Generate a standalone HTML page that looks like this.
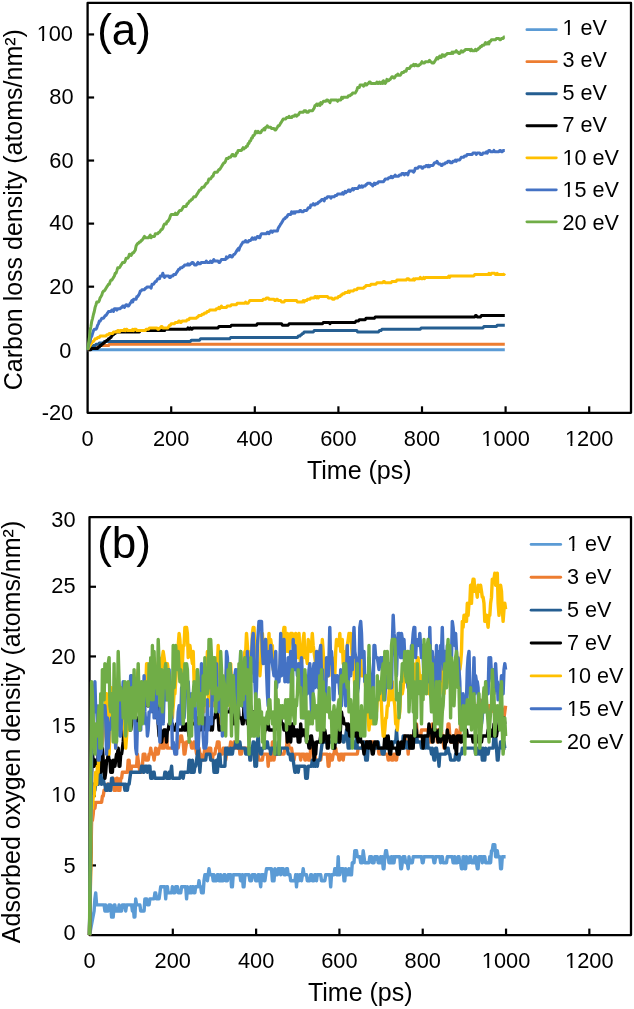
<!DOCTYPE html><html><head><meta charset="utf-8"><style>html,body{margin:0;padding:0;background:#fff;width:634px;height:1009px;overflow:hidden}</style></head><body><svg width="634" height="1009" viewBox="0 0 634 1009" style="display:block;will-change:transform">
<rect width="634" height="1009" fill="#fff"/>
<g font-family='"Liberation Sans", sans-serif' fill="#000">
<rect x="87.60" y="2.90" width="543.40" height="409.90" fill="none" stroke="#000" stroke-width="2.3" stroke-linejoin="round"/>
<line x1="87.60" y1="349.74" x2="94.10" y2="349.74" stroke="#000" stroke-width="2.2"/>
<line x1="87.60" y1="286.68" x2="94.10" y2="286.68" stroke="#000" stroke-width="2.2"/>
<line x1="87.60" y1="223.62" x2="94.10" y2="223.62" stroke="#000" stroke-width="2.2"/>
<line x1="87.60" y1="160.55" x2="94.10" y2="160.55" stroke="#000" stroke-width="2.2"/>
<line x1="87.60" y1="97.49" x2="94.10" y2="97.49" stroke="#000" stroke-width="2.2"/>
<line x1="87.60" y1="34.43" x2="94.10" y2="34.43" stroke="#000" stroke-width="2.2"/>
<line x1="171.20" y1="412.80" x2="171.20" y2="406.30" stroke="#000" stroke-width="2.2"/>
<line x1="254.80" y1="412.80" x2="254.80" y2="406.30" stroke="#000" stroke-width="2.2"/>
<line x1="338.40" y1="412.80" x2="338.40" y2="406.30" stroke="#000" stroke-width="2.2"/>
<line x1="422.00" y1="412.80" x2="422.00" y2="406.30" stroke="#000" stroke-width="2.2"/>
<line x1="505.60" y1="412.80" x2="505.60" y2="406.30" stroke="#000" stroke-width="2.2"/>
<line x1="589.20" y1="412.80" x2="589.20" y2="406.30" stroke="#000" stroke-width="2.2"/>
<path d="M87.6 349.7L88.4 349.7L89.3 349.7L90.1 349.7L90.9 349.7L91.8 349.7L92.6 349.7L93.5 349.7L94.3 349.7L95.1 349.7L96.0 349.7L96.8 349.7L97.6 349.7L98.5 349.7L99.3 349.7L100.1 349.7L101.0 349.7L101.8 349.7L102.6 349.7L103.5 349.7L104.3 349.7L105.2 349.7L106.0 349.7L106.8 349.7L107.7 349.7L108.5 349.7L109.3 349.7L110.2 349.7L111.0 349.7L111.8 349.7L112.7 349.7L113.5 349.7L114.4 349.7L115.2 349.7L116.0 349.7L116.9 349.7L117.7 349.7L118.5 349.7L119.4 349.7L120.2 349.7L121.0 349.7L121.9 349.7L122.7 349.7L123.5 349.7L124.4 349.7L125.2 349.7L126.1 349.7L126.9 349.7L127.7 349.7L128.6 349.7L129.4 349.7L130.2 349.7L131.1 349.7L131.9 349.7L132.7 349.7L133.6 349.7L134.4 349.7L135.3 349.7L136.1 349.7L136.9 349.7L137.8 349.7L138.6 349.7L139.4 349.7L140.3 349.7L141.1 349.7L141.9 349.7L142.8 349.7L143.6 349.7L144.4 349.7L145.3 349.7L146.1 349.7L147.0 349.7L147.8 349.7L148.6 349.7L149.5 349.7L150.3 349.7L151.1 349.7L152.0 349.7L152.8 349.7L153.6 349.7L154.5 349.7L155.3 349.7L156.2 349.7L157.0 349.7L157.8 349.7L158.7 349.7L159.5 349.7L160.3 349.7L161.2 349.7L162.0 349.7L162.8 349.7L163.7 349.7L164.5 349.7L165.3 349.7L166.2 349.7L167.0 349.7L167.9 349.7L168.7 349.7L169.5 349.7L170.4 349.7L171.2 349.7L172.0 349.7L172.9 349.7L173.7 349.7L174.5 349.7L175.4 349.7L176.2 349.7L177.1 349.7L177.9 349.7L178.7 349.7L179.6 349.7L180.4 349.7L181.2 349.7L182.1 349.7L182.9 349.7L183.7 349.7L184.6 349.7L185.4 349.7L186.2 349.7L187.1 349.7L187.9 349.7L188.8 349.7L189.6 349.7L190.4 349.7L191.3 349.7L192.1 349.7L192.9 349.7L193.8 349.7L194.6 349.7L195.4 349.7L196.3 349.7L197.1 349.7L198.0 349.7L198.8 349.7L199.6 349.7L200.5 349.7L201.3 349.7L202.1 349.7L203.0 349.7L203.8 349.7L204.6 349.7L205.5 349.7L206.3 349.7L207.1 349.7L208.0 349.7L208.8 349.7L209.7 349.7L210.5 349.7L211.3 349.7L212.2 349.7L213.0 349.7L213.8 349.7L214.7 349.7L215.5 349.7L216.3 349.7L217.2 349.7L218.0 349.7L218.9 349.7L219.7 349.7L220.5 349.7L221.4 349.7L222.2 349.7L223.0 349.7L223.9 349.7L224.7 349.7L225.5 349.7L226.4 349.7L227.2 349.7L228.0 349.7L228.9 349.7L229.7 349.7L230.6 349.7L231.4 349.7L232.2 349.7L233.1 349.7L233.9 349.7L234.7 349.7L235.6 349.7L236.4 349.7L237.2 349.7L238.1 349.7L238.9 349.7L239.8 349.7L240.6 349.7L241.4 349.7L242.3 349.7L243.1 349.7L243.9 349.7L244.8 349.7L245.6 349.7L246.4 349.7L247.3 349.7L248.1 349.7L248.9 349.7L249.8 349.7L250.6 349.7L251.5 349.7L252.3 349.7L253.1 349.7L254.0 349.7L254.8 349.7L255.6 349.7L256.5 349.7L257.3 349.7L258.1 349.7L259.0 349.7L259.8 349.7L260.7 349.7L261.5 349.7L262.3 349.7L263.2 349.7L264.0 349.7L264.8 349.7L265.7 349.7L266.5 349.7L267.3 349.7L268.2 349.7L269.0 349.7L269.8 349.7L270.7 349.7L271.5 349.7L272.4 349.7L273.2 349.7L274.0 349.7L274.9 349.7L275.7 349.7L276.5 349.7L277.4 349.7L278.2 349.7L279.0 349.7L279.9 349.7L280.7 349.7L281.6 349.7L282.4 349.7L283.2 349.7L284.1 349.7L284.9 349.7L285.7 349.7L286.6 349.7L287.4 349.7L288.2 349.7L289.1 349.7L289.9 349.7L290.7 349.7L291.6 349.7L292.4 349.7L293.3 349.7L294.1 349.7L294.9 349.7L295.8 349.7L296.6 349.7L297.4 349.7L298.3 349.7L299.1 349.7L299.9 349.7L300.8 349.7L301.6 349.7L302.5 349.7L303.3 349.7L304.1 349.7L305.0 349.7L305.8 349.7L306.6 349.7L307.5 349.7L308.3 349.7L309.1 349.7L310.0 349.7L310.8 349.7L311.6 349.7L312.5 349.7L313.3 349.7L314.2 349.7L315.0 349.7L315.8 349.7L316.7 349.7L317.5 349.7L318.3 349.7L319.2 349.7L320.0 349.7L320.8 349.7L321.7 349.7L322.5 349.7L323.4 349.7L324.2 349.7L325.0 349.7L325.9 349.7L326.7 349.7L327.5 349.7L328.4 349.7L329.2 349.7L330.0 349.7L330.9 349.7L331.7 349.7L332.5 349.7L333.4 349.7L334.2 349.7L335.1 349.7L335.9 349.7L336.7 349.7L337.6 349.7L338.4 349.7L339.2 349.7L340.1 349.7L340.9 349.7L341.7 349.7L342.6 349.7L343.4 349.7L344.3 349.7L345.1 349.7L345.9 349.7L346.8 349.7L347.6 349.7L348.4 349.7L349.3 349.7L350.1 349.7L350.9 349.7L351.8 349.7L352.6 349.7L353.4 349.7L354.3 349.7L355.1 349.7L356.0 349.7L356.8 349.7L357.6 349.7L358.5 349.7L359.3 349.7L360.1 349.7L361.0 349.7L361.8 349.7L362.6 349.7L363.5 349.7L364.3 349.7L365.2 349.7L366.0 349.7L366.8 349.7L367.7 349.7L368.5 349.7L369.3 349.7L370.2 349.7L371.0 349.7L371.8 349.7L372.7 349.7L373.5 349.7L374.3 349.7L375.2 349.7L376.0 349.7L376.9 349.7L377.7 349.7L378.5 349.7L379.4 349.7L380.2 349.7L381.0 349.7L381.9 349.7L382.7 349.7L383.5 349.7L384.4 349.7L385.2 349.7L386.1 349.7L386.9 349.7L387.7 349.7L388.6 349.7L389.4 349.7L390.2 349.7L391.1 349.7L391.9 349.7L392.7 349.7L393.6 349.7L394.4 349.7L395.2 349.7L396.1 349.7L396.9 349.7L397.8 349.7L398.6 349.7L399.4 349.7L400.3 349.7L401.1 349.7L401.9 349.7L402.8 349.7L403.6 349.7L404.4 349.7L405.3 349.7L406.1 349.7L407.0 349.7L407.8 349.7L408.6 349.7L409.5 349.7L410.3 349.7L411.1 349.7L412.0 349.7L412.8 349.7L413.6 349.7L414.5 349.7L415.3 349.7L416.1 349.7L417.0 349.7L417.8 349.7L418.7 349.7L419.5 349.7L420.3 349.7L421.2 349.7L422.0 349.7L422.8 349.7L423.7 349.7L424.5 349.7L425.3 349.7L426.2 349.7L427.0 349.7L427.9 349.7L428.7 349.7L429.5 349.7L430.4 349.7L431.2 349.7L432.0 349.7L432.9 349.7L433.7 349.7L434.5 349.7L435.4 349.7L436.2 349.7L437.0 349.7L437.9 349.7L438.7 349.7L439.6 349.7L440.4 349.7L441.2 349.7L442.1 349.7L442.9 349.7L443.7 349.7L444.6 349.7L445.4 349.7L446.2 349.7L447.1 349.7L447.9 349.7L448.8 349.7L449.6 349.7L450.4 349.7L451.3 349.7L452.1 349.7L452.9 349.7L453.8 349.7L454.6 349.7L455.4 349.7L456.3 349.7L457.1 349.7L457.9 349.7L458.8 349.7L459.6 349.7L460.5 349.7L461.3 349.7L462.1 349.7L463.0 349.7L463.8 349.7L464.6 349.7L465.5 349.7L466.3 349.7L467.1 349.7L468.0 349.7L468.8 349.7L469.7 349.7L470.5 349.7L471.3 349.7L472.2 349.7L473.0 349.7L473.8 349.7L474.7 349.7L475.5 349.7L476.3 349.7L477.2 349.7L478.0 349.7L478.8 349.7L479.7 349.7L480.5 349.7L481.4 349.7L482.2 349.7L483.0 349.7L483.9 349.7L484.7 349.7L485.5 349.7L486.4 349.7L487.2 349.7L488.0 349.7L488.9 349.7L489.7 349.7L490.6 349.7L491.4 349.7L492.2 349.7L493.1 349.7L493.9 349.7L494.7 349.7L495.6 349.7L496.4 349.7L497.2 349.7L498.1 349.7L498.9 349.7L499.7 349.7L500.6 349.7L501.4 349.7L502.3 349.7L503.1 349.7L503.9 349.7L504.8 349.7" fill="none" stroke="#5B9BD5" stroke-width="3.0" stroke-linejoin="round"/>
<path d="M87.6 349.7L88.4 349.7L89.3 349.7L90.1 348.4L90.9 348.4L91.8 348.4L92.6 348.4L93.5 347.0L94.3 347.0L95.1 347.0L96.0 347.0L96.8 347.0L97.6 347.0L98.5 347.0L99.3 347.0L100.1 345.6L101.0 345.6L101.8 345.6L102.6 345.6L103.5 345.6L104.3 345.6L105.2 345.6L106.0 345.6L106.8 345.6L107.7 345.6L108.5 345.6L109.3 344.3L110.2 344.3L111.0 344.3L111.8 344.3L112.7 344.3L113.5 344.3L114.4 344.3L115.2 344.3L116.0 344.3L116.9 344.3L117.7 344.3L118.5 344.3L119.4 344.3L120.2 344.3L121.0 344.3L121.9 344.3L122.7 344.3L123.5 344.3L124.4 344.3L125.2 344.3L126.1 344.3L126.9 344.3L127.7 344.3L128.6 344.3L129.4 344.3L130.2 344.3L131.1 344.3L131.9 344.3L132.7 344.3L133.6 344.3L134.4 344.3L135.3 344.3L136.1 344.3L136.9 344.3L137.8 344.3L138.6 344.3L139.4 344.3L140.3 344.3L141.1 344.3L141.9 344.3L142.8 344.3L143.6 344.3L144.4 344.3L145.3 344.3L146.1 344.3L147.0 344.3L147.8 344.3L148.6 344.3L149.5 344.3L150.3 344.3L151.1 344.3L152.0 344.3L152.8 344.3L153.6 344.3L154.5 344.3L155.3 344.3L156.2 344.3L157.0 344.3L157.8 344.3L158.7 344.3L159.5 344.3L160.3 344.3L161.2 344.3L162.0 344.3L162.8 344.3L163.7 344.3L164.5 344.3L165.3 344.3L166.2 344.3L167.0 344.3L167.9 344.3L168.7 344.3L169.5 344.3L170.4 344.3L171.2 344.3L172.0 344.3L172.9 344.3L173.7 344.3L174.5 344.3L175.4 344.3L176.2 344.3L177.1 344.3L177.9 344.3L178.7 344.3L179.6 344.3L180.4 344.3L181.2 344.3L182.1 344.3L182.9 344.3L183.7 344.3L184.6 344.3L185.4 344.3L186.2 344.3L187.1 344.3L187.9 344.3L188.8 344.3L189.6 344.3L190.4 344.3L191.3 344.3L192.1 344.3L192.9 344.3L193.8 344.3L194.6 344.3L195.4 344.3L196.3 344.3L197.1 344.3L198.0 344.3L198.8 344.3L199.6 344.3L200.5 344.3L201.3 344.3L202.1 344.3L203.0 344.3L203.8 344.3L204.6 344.3L205.5 344.3L206.3 344.3L207.1 344.3L208.0 344.3L208.8 344.3L209.7 344.3L210.5 344.3L211.3 344.3L212.2 344.3L213.0 344.3L213.8 344.3L214.7 344.3L215.5 344.3L216.3 344.3L217.2 344.3L218.0 344.3L218.9 344.3L219.7 344.3L220.5 344.3L221.4 344.3L222.2 344.3L223.0 344.3L223.9 344.3L224.7 344.3L225.5 344.3L226.4 344.3L227.2 344.3L228.0 344.3L228.9 344.3L229.7 344.3L230.6 344.3L231.4 344.3L232.2 344.3L233.1 344.3L233.9 344.3L234.7 344.3L235.6 344.3L236.4 344.3L237.2 344.3L238.1 344.3L238.9 344.3L239.8 344.3L240.6 344.3L241.4 344.3L242.3 344.3L243.1 344.3L243.9 344.3L244.8 344.3L245.6 344.3L246.4 344.3L247.3 344.3L248.1 344.3L248.9 344.3L249.8 344.3L250.6 344.3L251.5 344.3L252.3 344.3L253.1 344.3L254.0 344.3L254.8 344.3L255.6 344.3L256.5 344.3L257.3 344.3L258.1 344.3L259.0 344.3L259.8 344.3L260.7 344.3L261.5 344.3L262.3 344.3L263.2 344.3L264.0 344.3L264.8 344.3L265.7 344.3L266.5 344.3L267.3 344.3L268.2 344.3L269.0 344.3L269.8 344.3L270.7 344.3L271.5 344.3L272.4 344.3L273.2 344.3L274.0 344.3L274.9 344.3L275.7 344.3L276.5 344.3L277.4 344.3L278.2 344.3L279.0 344.3L279.9 344.3L280.7 344.3L281.6 344.3L282.4 344.3L283.2 344.3L284.1 344.3L284.9 344.3L285.7 344.3L286.6 344.3L287.4 344.3L288.2 344.3L289.1 344.3L289.9 344.3L290.7 344.3L291.6 344.3L292.4 344.3L293.3 344.3L294.1 344.3L294.9 344.3L295.8 344.3L296.6 344.3L297.4 344.3L298.3 344.3L299.1 344.3L299.9 344.3L300.8 344.3L301.6 344.3L302.5 344.3L303.3 344.3L304.1 344.3L305.0 344.3L305.8 344.3L306.6 344.3L307.5 344.3L308.3 344.3L309.1 344.3L310.0 344.3L310.8 344.3L311.6 344.3L312.5 344.3L313.3 344.3L314.2 344.3L315.0 344.3L315.8 344.3L316.7 344.3L317.5 344.3L318.3 344.3L319.2 344.3L320.0 344.3L320.8 344.3L321.7 344.3L322.5 344.3L323.4 344.3L324.2 344.3L325.0 344.3L325.9 344.3L326.7 344.3L327.5 344.3L328.4 344.3L329.2 344.3L330.0 344.3L330.9 344.3L331.7 344.3L332.5 344.3L333.4 344.3L334.2 344.3L335.1 344.3L335.9 344.3L336.7 344.3L337.6 344.3L338.4 344.3L339.2 344.3L340.1 344.3L340.9 344.3L341.7 344.3L342.6 344.3L343.4 344.3L344.3 344.3L345.1 344.3L345.9 344.3L346.8 344.3L347.6 344.3L348.4 344.3L349.3 344.3L350.1 344.3L350.9 344.3L351.8 344.3L352.6 344.3L353.4 344.3L354.3 344.3L355.1 344.3L356.0 344.3L356.8 344.3L357.6 344.3L358.5 344.3L359.3 344.3L360.1 344.3L361.0 344.3L361.8 344.3L362.6 344.3L363.5 344.3L364.3 344.3L365.2 344.3L366.0 344.3L366.8 344.3L367.7 344.3L368.5 344.3L369.3 344.3L370.2 344.3L371.0 344.3L371.8 344.3L372.7 344.3L373.5 344.3L374.3 344.3L375.2 344.3L376.0 344.3L376.9 344.3L377.7 344.3L378.5 344.3L379.4 344.3L380.2 344.3L381.0 344.3L381.9 344.3L382.7 344.3L383.5 344.3L384.4 344.3L385.2 344.3L386.1 344.3L386.9 344.3L387.7 344.3L388.6 344.3L389.4 344.3L390.2 344.3L391.1 344.3L391.9 344.3L392.7 344.3L393.6 344.3L394.4 344.3L395.2 344.3L396.1 344.3L396.9 344.3L397.8 344.3L398.6 344.3L399.4 344.3L400.3 344.3L401.1 344.3L401.9 344.3L402.8 344.3L403.6 344.3L404.4 344.3L405.3 344.3L406.1 344.3L407.0 344.3L407.8 344.3L408.6 344.3L409.5 344.3L410.3 344.3L411.1 344.3L412.0 344.3L412.8 344.3L413.6 344.3L414.5 344.3L415.3 344.3L416.1 344.3L417.0 344.3L417.8 344.3L418.7 344.3L419.5 344.3L420.3 344.3L421.2 344.3L422.0 344.3L422.8 344.3L423.7 344.3L424.5 344.3L425.3 344.3L426.2 344.3L427.0 344.3L427.9 344.3L428.7 344.3L429.5 344.3L430.4 344.3L431.2 344.3L432.0 344.3L432.9 344.3L433.7 344.3L434.5 344.3L435.4 344.3L436.2 344.3L437.0 344.3L437.9 344.3L438.7 344.3L439.6 344.3L440.4 344.3L441.2 344.3L442.1 344.3L442.9 344.3L443.7 344.3L444.6 344.3L445.4 344.3L446.2 344.3L447.1 344.3L447.9 344.3L448.8 344.3L449.6 344.3L450.4 344.3L451.3 344.3L452.1 344.3L452.9 344.3L453.8 344.3L454.6 344.3L455.4 344.3L456.3 344.3L457.1 344.3L457.9 344.3L458.8 344.3L459.6 344.3L460.5 344.3L461.3 344.3L462.1 344.3L463.0 344.3L463.8 344.3L464.6 344.3L465.5 344.3L466.3 344.3L467.1 344.3L468.0 344.3L468.8 344.3L469.7 344.3L470.5 344.3L471.3 344.3L472.2 344.3L473.0 344.3L473.8 344.3L474.7 344.3L475.5 344.3L476.3 344.3L477.2 344.3L478.0 344.3L478.8 344.3L479.7 344.3L480.5 344.3L481.4 344.3L482.2 344.3L483.0 344.3L483.9 344.3L484.7 344.3L485.5 344.3L486.4 344.3L487.2 344.3L488.0 344.3L488.9 344.3L489.7 344.3L490.6 344.3L491.4 344.3L492.2 344.3L493.1 344.3L493.9 344.3L494.7 344.3L495.6 344.3L496.4 344.3L497.2 344.3L498.1 344.3L498.9 344.3L499.7 344.3L500.6 344.3L501.4 344.3L502.3 344.3L503.1 344.3L503.9 344.3L504.8 344.3" fill="none" stroke="#ED7D31" stroke-width="3.0" stroke-linejoin="round"/>
<path d="M87.6 349.7L88.4 349.7L89.3 348.4L90.1 348.4L90.9 348.4L91.8 347.0L92.6 347.0L93.5 345.6L94.3 345.6L95.1 345.6L96.0 344.3L96.8 344.3L97.6 344.3L98.5 344.3L99.3 342.9L100.1 342.9L101.0 342.9L101.8 342.9L102.6 342.9L103.5 342.9L104.3 341.5L105.2 341.5L106.0 341.5L106.8 341.5L107.7 341.5L108.5 341.5L109.3 341.5L110.2 341.5L111.0 341.5L111.8 341.5L112.7 341.5L113.5 341.5L114.4 341.5L115.2 341.5L116.0 341.5L116.9 341.5L117.7 341.5L118.5 341.5L119.4 341.5L120.2 341.5L121.0 341.5L121.9 341.5L122.7 341.5L123.5 341.5L124.4 341.5L125.2 341.5L126.1 341.5L126.9 341.5L127.7 341.5L128.6 341.5L129.4 341.5L130.2 341.5L131.1 341.5L131.9 341.5L132.7 341.5L133.6 341.5L134.4 341.5L135.3 341.5L136.1 341.5L136.9 341.5L137.8 341.5L138.6 341.5L139.4 341.5L140.3 341.5L141.1 341.5L141.9 341.5L142.8 341.5L143.6 341.5L144.4 341.5L145.3 341.5L146.1 341.5L147.0 341.5L147.8 341.5L148.6 341.5L149.5 341.5L150.3 341.5L151.1 341.5L152.0 341.5L152.8 341.5L153.6 341.5L154.5 341.5L155.3 341.5L156.2 341.5L157.0 341.5L157.8 341.5L158.7 341.5L159.5 341.5L160.3 341.5L161.2 341.5L162.0 341.5L162.8 341.5L163.7 341.5L164.5 341.5L165.3 341.5L166.2 341.5L167.0 341.5L167.9 341.5L168.7 341.5L169.5 341.5L170.4 341.5L171.2 341.5L172.0 341.5L172.9 341.5L173.7 341.5L174.5 341.5L175.4 341.5L176.2 341.5L177.1 341.5L177.9 341.5L178.7 341.5L179.6 341.5L180.4 341.5L181.2 341.5L182.1 341.5L182.9 341.5L183.7 341.5L184.6 341.5L185.4 341.5L186.2 341.5L187.1 341.5L187.9 341.5L188.8 341.5L189.6 341.5L190.4 341.5L191.3 340.2L192.1 340.2L192.9 340.2L193.8 340.2L194.6 340.2L195.4 340.2L196.3 340.2L197.1 340.2L198.0 340.2L198.8 340.2L199.6 340.2L200.5 338.8L201.3 338.8L202.1 338.8L203.0 338.8L203.8 338.8L204.6 338.8L205.5 338.8L206.3 338.8L207.1 338.8L208.0 338.8L208.8 338.8L209.7 338.8L210.5 338.8L211.3 338.8L212.2 338.8L213.0 338.8L213.8 338.8L214.7 338.8L215.5 338.8L216.3 338.8L217.2 338.8L218.0 338.8L218.9 338.8L219.7 338.8L220.5 338.8L221.4 338.8L222.2 338.8L223.0 338.8L223.9 338.8L224.7 338.8L225.5 338.8L226.4 338.8L227.2 338.8L228.0 338.8L228.9 338.8L229.7 338.8L230.6 337.5L231.4 337.5L232.2 337.5L233.1 337.5L233.9 337.5L234.7 337.5L235.6 337.5L236.4 337.5L237.2 337.5L238.1 337.5L238.9 337.5L239.8 337.5L240.6 337.5L241.4 337.5L242.3 337.5L243.1 337.5L243.9 337.5L244.8 337.5L245.6 337.5L246.4 337.5L247.3 337.5L248.1 337.5L248.9 337.5L249.8 337.5L250.6 337.5L251.5 337.5L252.3 337.5L253.1 337.5L254.0 337.5L254.8 337.5L255.6 337.5L256.5 337.5L257.3 337.5L258.1 337.5L259.0 337.5L259.8 337.5L260.7 337.5L261.5 337.5L262.3 337.5L263.2 337.5L264.0 337.5L264.8 337.5L265.7 337.5L266.5 337.5L267.3 337.5L268.2 337.5L269.0 337.5L269.8 337.5L270.7 337.5L271.5 337.5L272.4 337.5L273.2 337.5L274.0 337.5L274.9 337.5L275.7 337.5L276.5 337.5L277.4 337.5L278.2 337.5L279.0 337.5L279.9 337.5L280.7 337.5L281.6 337.5L282.4 337.5L283.2 337.5L284.1 337.5L284.9 337.5L285.7 337.5L286.6 337.5L287.4 337.5L288.2 337.5L289.1 337.5L289.9 337.5L290.7 337.5L291.6 337.5L292.4 337.5L293.3 337.5L294.1 337.5L294.9 337.5L295.8 337.5L296.6 337.5L297.4 337.5L298.3 336.1L299.1 336.1L299.9 336.1L300.8 334.7L301.6 334.7L302.5 333.4L303.3 333.4L304.1 332.0L305.0 332.0L305.8 332.0L306.6 332.0L307.5 332.0L308.3 332.0L309.1 332.0L310.0 332.0L310.8 332.0L311.6 332.0L312.5 332.0L313.3 332.0L314.2 330.6L315.0 330.6L315.8 330.6L316.7 330.6L317.5 330.6L318.3 330.6L319.2 330.6L320.0 330.6L320.8 330.6L321.7 330.6L322.5 330.6L323.4 330.6L324.2 330.6L325.0 330.6L325.9 330.6L326.7 330.6L327.5 330.6L328.4 330.6L329.2 330.6L330.0 330.6L330.9 330.6L331.7 330.6L332.5 330.6L333.4 330.6L334.2 330.6L335.1 330.6L335.9 330.6L336.7 330.6L337.6 330.6L338.4 330.6L339.2 330.6L340.1 330.6L340.9 330.6L341.7 330.6L342.6 330.6L343.4 330.6L344.3 330.6L345.1 330.6L345.9 330.6L346.8 330.6L347.6 330.6L348.4 330.6L349.3 330.6L350.1 330.6L350.9 330.6L351.8 330.6L352.6 330.6L353.4 330.6L354.3 330.6L355.1 330.6L356.0 330.6L356.8 330.6L357.6 332.0L358.5 332.0L359.3 332.0L360.1 332.0L361.0 332.0L361.8 332.0L362.6 332.0L363.5 332.0L364.3 332.0L365.2 332.0L366.0 332.0L366.8 332.0L367.7 332.0L368.5 332.0L369.3 332.0L370.2 332.0L371.0 332.0L371.8 332.0L372.7 332.0L373.5 332.0L374.3 332.0L375.2 332.0L376.0 332.0L376.9 332.0L377.7 332.0L378.5 332.0L379.4 330.6L380.2 330.6L381.0 330.6L381.9 329.3L382.7 329.3L383.5 329.3L384.4 329.3L385.2 329.3L386.1 329.3L386.9 329.3L387.7 329.3L388.6 329.3L389.4 329.3L390.2 329.3L391.1 329.3L391.9 329.3L392.7 329.3L393.6 329.3L394.4 329.3L395.2 329.3L396.1 329.3L396.9 329.3L397.8 329.3L398.6 329.3L399.4 329.3L400.3 329.3L401.1 329.3L401.9 329.3L402.8 329.3L403.6 329.3L404.4 329.3L405.3 329.3L406.1 329.3L407.0 329.3L407.8 329.3L408.6 329.3L409.5 329.3L410.3 329.3L411.1 329.3L412.0 329.3L412.8 329.3L413.6 329.3L414.5 329.3L415.3 329.3L416.1 329.3L417.0 329.3L417.8 329.3L418.7 329.3L419.5 329.3L420.3 329.3L421.2 327.9L422.0 327.9L422.8 327.9L423.7 327.9L424.5 327.9L425.3 327.9L426.2 327.9L427.0 327.9L427.9 327.9L428.7 327.9L429.5 327.9L430.4 327.9L431.2 327.9L432.0 327.9L432.9 327.9L433.7 327.9L434.5 327.9L435.4 327.9L436.2 327.9L437.0 327.9L437.9 327.9L438.7 327.9L439.6 327.9L440.4 327.9L441.2 327.9L442.1 327.9L442.9 327.9L443.7 327.9L444.6 327.9L445.4 327.9L446.2 327.9L447.1 327.9L447.9 327.9L448.8 327.9L449.6 327.9L450.4 327.9L451.3 327.9L452.1 327.9L452.9 327.9L453.8 327.9L454.6 327.9L455.4 327.9L456.3 327.9L457.1 327.9L457.9 327.9L458.8 327.9L459.6 327.9L460.5 327.9L461.3 327.9L462.1 327.9L463.0 327.9L463.8 327.9L464.6 327.9L465.5 327.9L466.3 327.9L467.1 327.9L468.0 327.9L468.8 327.9L469.7 327.9L470.5 327.9L471.3 327.9L472.2 327.9L473.0 327.9L473.8 327.9L474.7 327.9L475.5 327.9L476.3 327.9L477.2 327.9L478.0 327.9L478.8 327.9L479.7 327.9L480.5 327.9L481.4 327.9L482.2 327.9L483.0 327.9L483.9 326.5L484.7 326.5L485.5 326.5L486.4 326.5L487.2 326.5L488.0 326.5L488.9 326.5L489.7 326.5L490.6 326.5L491.4 326.5L492.2 326.5L493.1 326.5L493.9 326.5L494.7 326.5L495.6 326.5L496.4 326.5L497.2 325.2L498.1 325.2L498.9 325.2L499.7 325.2L500.6 325.2L501.4 325.2L502.3 325.2L503.1 325.2L503.9 325.2L504.8 325.2" fill="none" stroke="#255E91" stroke-width="3.0" stroke-linejoin="round"/>
<path d="M87.6 349.7L88.4 349.7L89.3 349.7L90.1 349.7L90.9 349.7L91.8 348.4L92.6 348.4L93.5 348.4L94.3 348.4L95.1 348.4L96.0 348.4L96.8 348.4L97.6 348.4L98.5 347.0L99.3 347.0L100.1 345.6L101.0 345.6L101.8 344.3L102.6 344.3L103.5 342.9L104.3 342.9L105.2 341.5L106.0 341.5L106.8 340.2L107.7 340.2L108.5 338.8L109.3 338.8L110.2 337.5L111.0 337.5L111.8 336.1L112.7 334.7L113.5 334.7L114.4 333.4L115.2 333.4L116.0 332.0L116.9 332.0L117.7 332.0L118.5 332.0L119.4 332.0L120.2 332.0L121.0 332.0L121.9 332.0L122.7 332.0L123.5 332.0L124.4 332.0L125.2 332.0L126.1 332.0L126.9 332.0L127.7 332.0L128.6 332.0L129.4 332.0L130.2 332.0L131.1 332.0L131.9 332.0L132.7 332.0L133.6 332.0L134.4 332.0L135.3 332.0L136.1 332.0L136.9 332.0L137.8 332.0L138.6 332.0L139.4 332.0L140.3 330.6L141.1 330.6L141.9 330.6L142.8 330.6L143.6 330.6L144.4 330.6L145.3 330.6L146.1 330.6L147.0 330.6L147.8 330.6L148.6 330.6L149.5 330.6L150.3 330.6L151.1 330.6L152.0 330.6L152.8 330.6L153.6 330.6L154.5 330.6L155.3 330.6L156.2 330.6L157.0 330.6L157.8 330.6L158.7 330.6L159.5 330.6L160.3 330.6L161.2 330.6L162.0 330.6L162.8 330.6L163.7 330.6L164.5 330.6L165.3 329.3L166.2 329.3L167.0 329.3L167.9 329.3L168.7 329.3L169.5 329.3L170.4 329.3L171.2 329.3L172.0 329.3L172.9 329.3L173.7 329.3L174.5 329.3L175.4 329.3L176.2 329.3L177.1 329.3L177.9 329.3L178.7 329.3L179.6 329.3L180.4 329.3L181.2 329.3L182.1 329.3L182.9 329.3L183.7 329.3L184.6 329.3L185.4 329.3L186.2 329.3L187.1 329.3L187.9 327.9L188.8 329.3L189.6 329.3L190.4 327.9L191.3 329.3L192.1 329.3L192.9 327.9L193.8 327.9L194.6 327.9L195.4 327.9L196.3 327.9L197.1 327.9L198.0 327.9L198.8 327.9L199.6 327.9L200.5 327.9L201.3 327.9L202.1 327.9L203.0 327.9L203.8 327.9L204.6 327.9L205.5 327.9L206.3 327.9L207.1 327.9L208.0 327.9L208.8 327.9L209.7 327.9L210.5 327.9L211.3 327.9L212.2 327.9L213.0 327.9L213.8 327.9L214.7 327.9L215.5 327.9L216.3 327.9L217.2 327.9L218.0 327.9L218.9 326.5L219.7 326.5L220.5 326.5L221.4 326.5L222.2 326.5L223.0 326.5L223.9 326.5L224.7 326.5L225.5 326.5L226.4 326.5L227.2 326.5L228.0 326.5L228.9 326.5L229.7 326.5L230.6 326.5L231.4 325.2L232.2 325.2L233.1 325.2L233.9 325.2L234.7 325.2L235.6 325.2L236.4 325.2L237.2 325.2L238.1 325.2L238.9 325.2L239.8 325.2L240.6 325.2L241.4 325.2L242.3 325.2L243.1 325.2L243.9 325.2L244.8 325.2L245.6 325.2L246.4 325.2L247.3 325.2L248.1 325.2L248.9 325.2L249.8 325.2L250.6 325.2L251.5 325.2L252.3 325.2L253.1 325.2L254.0 325.2L254.8 325.2L255.6 325.2L256.5 325.2L257.3 323.8L258.1 323.8L259.0 323.8L259.8 323.8L260.7 323.8L261.5 323.8L262.3 323.8L263.2 323.8L264.0 323.8L264.8 323.8L265.7 323.8L266.5 323.8L267.3 323.8L268.2 323.8L269.0 323.8L269.8 323.8L270.7 323.8L271.5 323.8L272.4 323.8L273.2 323.8L274.0 323.8L274.9 323.8L275.7 323.8L276.5 323.8L277.4 323.8L278.2 323.8L279.0 323.8L279.9 323.8L280.7 323.8L281.6 323.8L282.4 325.2L283.2 325.2L284.1 325.2L284.9 325.2L285.7 325.2L286.6 325.2L287.4 325.2L288.2 325.2L289.1 323.8L289.9 323.8L290.7 323.8L291.6 323.8L292.4 323.8L293.3 323.8L294.1 323.8L294.9 323.8L295.8 323.8L296.6 323.8L297.4 323.8L298.3 323.8L299.1 323.8L299.9 323.8L300.8 323.8L301.6 323.8L302.5 323.8L303.3 323.8L304.1 323.8L305.0 323.8L305.8 323.8L306.6 323.8L307.5 323.8L308.3 323.8L309.1 323.8L310.0 323.8L310.8 323.8L311.6 323.8L312.5 323.8L313.3 323.8L314.2 323.8L315.0 323.8L315.8 323.8L316.7 323.8L317.5 323.8L318.3 323.8L319.2 323.8L320.0 323.8L320.8 323.8L321.7 323.8L322.5 323.8L323.4 322.4L324.2 322.4L325.0 322.4L325.9 322.4L326.7 322.4L327.5 322.4L328.4 322.4L329.2 322.4L330.0 323.8L330.9 322.4L331.7 322.4L332.5 322.4L333.4 322.4L334.2 322.4L335.1 322.4L335.9 322.4L336.7 322.4L337.6 322.4L338.4 322.4L339.2 322.4L340.1 322.4L340.9 322.4L341.7 322.4L342.6 322.4L343.4 322.4L344.3 322.4L345.1 322.4L345.9 322.4L346.8 322.4L347.6 322.4L348.4 322.4L349.3 322.4L350.1 322.4L350.9 322.4L351.8 322.4L352.6 322.4L353.4 322.4L354.3 322.4L355.1 322.4L356.0 321.1L356.8 321.1L357.6 321.1L358.5 321.1L359.3 319.7L360.1 319.7L361.0 319.7L361.8 319.7L362.6 319.7L363.5 319.7L364.3 319.7L365.2 319.7L366.0 318.3L366.8 318.3L367.7 318.3L368.5 318.3L369.3 318.3L370.2 318.3L371.0 318.3L371.8 318.3L372.7 318.3L373.5 318.3L374.3 318.3L375.2 317.0L376.0 317.0L376.9 317.0L377.7 317.0L378.5 317.0L379.4 317.0L380.2 317.0L381.0 317.0L381.9 317.0L382.7 317.0L383.5 317.0L384.4 317.0L385.2 317.0L386.1 317.0L386.9 317.0L387.7 317.0L388.6 317.0L389.4 317.0L390.2 317.0L391.1 317.0L391.9 317.0L392.7 317.0L393.6 317.0L394.4 317.0L395.2 317.0L396.1 317.0L396.9 317.0L397.8 317.0L398.6 317.0L399.4 317.0L400.3 317.0L401.1 317.0L401.9 317.0L402.8 317.0L403.6 317.0L404.4 317.0L405.3 317.0L406.1 317.0L407.0 317.0L407.8 317.0L408.6 317.0L409.5 317.0L410.3 317.0L411.1 317.0L412.0 317.0L412.8 317.0L413.6 317.0L414.5 317.0L415.3 317.0L416.1 317.0L417.0 317.0L417.8 317.0L418.7 317.0L419.5 317.0L420.3 317.0L421.2 317.0L422.0 317.0L422.8 317.0L423.7 317.0L424.5 317.0L425.3 317.0L426.2 317.0L427.0 317.0L427.9 317.0L428.7 317.0L429.5 317.0L430.4 317.0L431.2 317.0L432.0 317.0L432.9 317.0L433.7 317.0L434.5 317.0L435.4 317.0L436.2 317.0L437.0 317.0L437.9 317.0L438.7 317.0L439.6 317.0L440.4 317.0L441.2 317.0L442.1 317.0L442.9 317.0L443.7 317.0L444.6 317.0L445.4 317.0L446.2 317.0L447.1 317.0L447.9 317.0L448.8 317.0L449.6 317.0L450.4 317.0L451.3 317.0L452.1 317.0L452.9 317.0L453.8 317.0L454.6 317.0L455.4 317.0L456.3 317.0L457.1 317.0L457.9 317.0L458.8 317.0L459.6 317.0L460.5 317.0L461.3 317.0L462.1 317.0L463.0 317.0L463.8 317.0L464.6 317.0L465.5 317.0L466.3 317.0L467.1 317.0L468.0 317.0L468.8 317.0L469.7 317.0L470.5 317.0L471.3 317.0L472.2 317.0L473.0 317.0L473.8 317.0L474.7 317.0L475.5 315.6L476.3 315.6L477.2 317.0L478.0 317.0L478.8 317.0L479.7 317.0L480.5 317.0L481.4 315.6L482.2 315.6L483.0 315.6L483.9 315.6L484.7 315.6L485.5 315.6L486.4 315.6L487.2 315.6L488.0 315.6L488.9 315.6L489.7 315.6L490.6 315.6L491.4 315.6L492.2 315.6L493.1 315.6L493.9 315.6L494.7 315.6L495.6 315.6L496.4 315.6L497.2 315.6L498.1 315.6L498.9 315.6L499.7 315.6L500.6 315.6L501.4 315.6L502.3 315.6L503.1 315.6L503.9 315.6L504.8 315.6" fill="none" stroke="#000000" stroke-width="3.0" stroke-linejoin="round"/>
<path d="M87.6 349.7L88.4 348.4L89.3 347.0L90.1 345.6L90.9 344.3L91.8 342.9L92.6 341.5L93.5 341.5L94.3 340.2L95.1 338.8L96.0 338.8L96.8 338.8L97.6 337.5L98.5 337.5L99.3 337.5L100.1 336.1L101.0 336.1L101.8 336.1L102.6 336.1L103.5 336.1L104.3 336.1L105.2 336.1L106.0 336.1L106.8 334.7L107.7 334.7L108.5 334.7L109.3 333.4L110.2 333.4L111.0 333.4L111.8 333.4L112.7 333.4L113.5 332.0L114.4 332.0L115.2 332.0L116.0 332.0L116.9 332.0L117.7 330.6L118.5 330.6L119.4 332.0L120.2 330.6L121.0 330.6L121.9 330.6L122.7 330.6L123.5 330.6L124.4 329.3L125.2 330.6L126.1 329.3L126.9 329.3L127.7 330.6L128.6 330.6L129.4 330.6L130.2 330.6L131.1 330.6L131.9 330.6L132.7 329.3L133.6 330.6L134.4 329.3L135.3 329.3L136.1 329.3L136.9 330.6L137.8 330.6L138.6 330.6L139.4 330.6L140.3 330.6L141.1 330.6L141.9 330.6L142.8 330.6L143.6 330.6L144.4 330.6L145.3 330.6L146.1 329.3L147.0 329.3L147.8 329.3L148.6 329.3L149.5 327.9L150.3 327.9L151.1 327.9L152.0 327.9L152.8 327.9L153.6 327.9L154.5 327.9L155.3 327.9L156.2 327.9L157.0 327.9L157.8 329.3L158.7 329.3L159.5 327.9L160.3 327.9L161.2 326.5L162.0 326.5L162.8 327.9L163.7 327.9L164.5 327.9L165.3 327.9L166.2 327.9L167.0 327.9L167.9 327.9L168.7 326.5L169.5 325.2L170.4 325.2L171.2 323.8L172.0 323.8L172.9 323.8L173.7 323.8L174.5 323.8L175.4 322.4L176.2 322.4L177.1 322.4L177.9 322.4L178.7 321.1L179.6 321.1L180.4 322.4L181.2 322.4L182.1 321.1L182.9 321.1L183.7 321.1L184.6 321.1L185.4 321.1L186.2 321.1L187.1 319.7L187.9 319.7L188.8 319.7L189.6 318.3L190.4 318.3L191.3 318.3L192.1 318.3L192.9 318.3L193.8 318.3L194.6 318.3L195.4 318.3L196.3 318.3L197.1 317.0L198.0 317.0L198.8 315.6L199.6 315.6L200.5 315.6L201.3 315.6L202.1 314.2L203.0 314.2L203.8 314.2L204.6 312.9L205.5 312.9L206.3 312.9L207.1 311.5L208.0 311.5L208.8 311.5L209.7 310.1L210.5 310.1L211.3 310.1L212.2 310.1L213.0 310.1L213.8 310.1L214.7 310.1L215.5 310.1L216.3 308.8L217.2 308.8L218.0 308.8L218.9 307.4L219.7 308.8L220.5 307.4L221.4 306.0L222.2 307.4L223.0 307.4L223.9 307.4L224.7 307.4L225.5 307.4L226.4 307.4L227.2 306.0L228.0 306.0L228.9 306.0L229.7 306.0L230.6 306.0L231.4 304.7L232.2 304.7L233.1 304.7L233.9 304.7L234.7 304.7L235.6 304.7L236.4 304.7L237.2 303.3L238.1 303.3L238.9 303.3L239.8 303.3L240.6 303.3L241.4 303.3L242.3 303.3L243.1 303.3L243.9 303.3L244.8 303.3L245.6 302.0L246.4 303.3L247.3 303.3L248.1 303.3L248.9 302.0L249.8 300.6L250.6 300.6L251.5 300.6L252.3 300.6L253.1 300.6L254.0 300.6L254.8 300.6L255.6 300.6L256.5 300.6L257.3 300.6L258.1 300.6L259.0 300.6L259.8 300.6L260.7 300.6L261.5 300.6L262.3 300.6L263.2 299.2L264.0 299.2L264.8 299.2L265.7 299.2L266.5 297.9L267.3 297.9L268.2 297.9L269.0 299.2L269.8 299.2L270.7 299.2L271.5 299.2L272.4 299.2L273.2 299.2L274.0 299.2L274.9 300.6L275.7 300.6L276.5 299.2L277.4 299.2L278.2 300.6L279.0 300.6L279.9 300.6L280.7 300.6L281.6 302.0L282.4 302.0L283.2 302.0L284.1 302.0L284.9 300.6L285.7 300.6L286.6 300.6L287.4 300.6L288.2 300.6L289.1 300.6L289.9 300.6L290.7 300.6L291.6 300.6L292.4 300.6L293.3 300.6L294.1 300.6L294.9 300.6L295.8 300.6L296.6 300.6L297.4 302.0L298.3 302.0L299.1 302.0L299.9 302.0L300.8 302.0L301.6 302.0L302.5 302.0L303.3 300.6L304.1 302.0L305.0 300.6L305.8 300.6L306.6 300.6L307.5 299.2L308.3 299.2L309.1 299.2L310.0 299.2L310.8 297.9L311.6 297.9L312.5 297.9L313.3 297.9L314.2 297.9L315.0 296.5L315.8 296.5L316.7 297.9L317.5 296.5L318.3 297.9L319.2 296.5L320.0 296.5L320.8 296.5L321.7 296.5L322.5 296.5L323.4 296.5L324.2 296.5L325.0 296.5L325.9 296.5L326.7 296.5L327.5 296.5L328.4 297.9L329.2 297.9L330.0 297.9L330.9 297.9L331.7 297.9L332.5 299.2L333.4 299.2L334.2 299.2L335.1 297.9L335.9 297.9L336.7 297.9L337.6 297.9L338.4 296.5L339.2 296.5L340.1 296.5L340.9 295.1L341.7 295.1L342.6 293.8L343.4 293.8L344.3 293.8L345.1 292.4L345.9 292.4L346.8 292.4L347.6 292.4L348.4 291.0L349.3 292.4L350.1 291.0L350.9 291.0L351.8 291.0L352.6 291.0L353.4 291.0L354.3 289.7L355.1 289.7L356.0 289.7L356.8 289.7L357.6 288.3L358.5 288.3L359.3 288.3L360.1 288.3L361.0 288.3L361.8 288.3L362.6 288.3L363.5 288.3L364.3 286.9L365.2 286.9L366.0 285.6L366.8 285.6L367.7 285.6L368.5 285.6L369.3 285.6L370.2 285.6L371.0 284.2L371.8 284.2L372.7 284.2L373.5 284.2L374.3 284.2L375.2 284.2L376.0 284.2L376.9 282.8L377.7 282.8L378.5 282.8L379.4 282.8L380.2 282.8L381.0 282.8L381.9 282.8L382.7 282.8L383.5 281.5L384.4 281.5L385.2 282.8L386.1 282.8L386.9 282.8L387.7 282.8L388.6 282.8L389.4 282.8L390.2 282.8L391.1 282.8L391.9 281.5L392.7 281.5L393.6 281.5L394.4 281.5L395.2 281.5L396.1 281.5L396.9 280.1L397.8 280.1L398.6 280.1L399.4 280.1L400.3 280.1L401.1 280.1L401.9 280.1L402.8 280.1L403.6 280.1L404.4 280.1L405.3 280.1L406.1 280.1L407.0 278.7L407.8 278.7L408.6 278.7L409.5 280.1L410.3 280.1L411.1 280.1L412.0 280.1L412.8 280.1L413.6 278.7L414.5 280.1L415.3 278.7L416.1 278.7L417.0 278.7L417.8 278.7L418.7 278.7L419.5 278.7L420.3 277.4L421.2 278.7L422.0 278.7L422.8 278.7L423.7 277.4L424.5 278.7L425.3 277.4L426.2 277.4L427.0 277.4L427.9 277.4L428.7 277.4L429.5 277.4L430.4 277.4L431.2 277.4L432.0 277.4L432.9 277.4L433.7 277.4L434.5 277.4L435.4 277.4L436.2 277.4L437.0 277.4L437.9 277.4L438.7 277.4L439.6 277.4L440.4 277.4L441.2 277.4L442.1 277.4L442.9 277.4L443.7 277.4L444.6 277.4L445.4 277.4L446.2 277.4L447.1 277.4L447.9 277.4L448.8 276.0L449.6 277.4L450.4 276.0L451.3 276.0L452.1 276.0L452.9 276.0L453.8 276.0L454.6 276.0L455.4 276.0L456.3 276.0L457.1 276.0L457.9 276.0L458.8 276.0L459.6 276.0L460.5 276.0L461.3 276.0L462.1 276.0L463.0 276.0L463.8 276.0L464.6 276.0L465.5 276.0L466.3 276.0L467.1 276.0L468.0 276.0L468.8 276.0L469.7 276.0L470.5 276.0L471.3 276.0L472.2 276.0L473.0 276.0L473.8 276.0L474.7 274.6L475.5 274.6L476.3 274.6L477.2 274.6L478.0 274.6L478.8 274.6L479.7 274.6L480.5 274.6L481.4 274.6L482.2 274.6L483.0 274.6L483.9 274.6L484.7 274.6L485.5 274.6L486.4 274.6L487.2 274.6L488.0 274.6L488.9 273.3L489.7 274.6L490.6 274.6L491.4 273.3L492.2 273.3L493.1 273.3L493.9 273.3L494.7 273.3L495.6 274.6L496.4 274.6L497.2 273.3L498.1 274.6L498.9 274.6L499.7 274.6L500.6 274.6L501.4 274.6L502.3 274.6L503.1 274.6L503.9 274.6L504.8 273.3" fill="none" stroke="#FFC000" stroke-width="3.0" stroke-linejoin="round"/>
<path d="M87.6 349.7L88.4 345.6L89.3 342.9L90.1 341.5L90.9 337.5L91.8 336.1L92.6 333.4L93.5 330.6L94.3 329.3L95.1 329.3L96.0 329.3L96.8 327.9L97.6 325.2L98.5 323.8L99.3 321.1L100.1 321.1L101.0 319.7L101.8 318.3L102.6 318.3L103.5 318.3L104.3 317.0L105.2 315.6L106.0 315.6L106.8 314.2L107.7 312.9L108.5 311.5L109.3 311.5L110.2 311.5L111.0 311.5L111.8 310.1L112.7 310.1L113.5 311.5L114.4 308.8L115.2 308.8L116.0 308.8L116.9 310.1L117.7 308.8L118.5 308.8L119.4 308.8L120.2 308.8L121.0 307.4L121.9 307.4L122.7 306.0L123.5 306.0L124.4 307.4L125.2 306.0L126.1 304.7L126.9 304.7L127.7 306.0L128.6 306.0L129.4 304.7L130.2 303.3L131.1 302.0L131.9 300.6L132.7 302.0L133.6 299.2L134.4 299.2L135.3 299.2L136.1 299.2L136.9 296.5L137.8 296.5L138.6 295.1L139.4 293.8L140.3 291.0L141.1 291.0L141.9 289.7L142.8 289.7L143.6 289.7L144.4 289.7L145.3 288.3L146.1 288.3L147.0 286.9L147.8 286.9L148.6 286.9L149.5 286.9L150.3 286.9L151.1 288.3L152.0 284.2L152.8 284.2L153.6 284.2L154.5 282.8L155.3 281.5L156.2 281.5L157.0 280.1L157.8 278.7L158.7 278.7L159.5 278.7L160.3 276.0L161.2 276.0L162.0 276.0L162.8 273.3L163.7 276.0L164.5 277.4L165.3 276.0L166.2 276.0L167.0 276.0L167.9 276.0L168.7 276.0L169.5 277.4L170.4 277.4L171.2 276.0L172.0 276.0L172.9 276.0L173.7 274.6L174.5 274.6L175.4 274.6L176.2 273.3L177.1 271.9L177.9 270.6L178.7 269.2L179.6 269.2L180.4 267.8L181.2 267.8L182.1 267.8L182.9 266.5L183.7 266.5L184.6 265.1L185.4 265.1L186.2 265.1L187.1 265.1L187.9 263.7L188.8 265.1L189.6 265.1L190.4 263.7L191.3 263.7L192.1 262.4L192.9 262.4L193.8 263.7L194.6 265.1L195.4 265.1L196.3 265.1L197.1 263.7L198.0 262.4L198.8 263.7L199.6 263.7L200.5 263.7L201.3 262.4L202.1 262.4L203.0 262.4L203.8 262.4L204.6 262.4L205.5 262.4L206.3 261.0L207.1 262.4L208.0 262.4L208.8 262.4L209.7 262.4L210.5 261.0L211.3 262.4L212.2 262.4L213.0 261.0L213.8 259.6L214.7 261.0L215.5 261.0L216.3 261.0L217.2 261.0L218.0 261.0L218.9 262.4L219.7 262.4L220.5 261.0L221.4 259.6L222.2 259.6L223.0 259.6L223.9 259.6L224.7 259.6L225.5 259.6L226.4 256.9L227.2 258.3L228.0 256.9L228.9 256.9L229.7 255.5L230.6 255.5L231.4 256.9L232.2 256.9L233.1 255.5L233.9 254.2L234.7 254.2L235.6 252.8L236.4 251.4L237.2 250.1L238.1 248.7L238.9 250.1L239.8 247.3L240.6 246.0L241.4 244.6L242.3 243.2L243.1 241.9L243.9 241.9L244.8 241.9L245.6 240.5L246.4 241.9L247.3 241.9L248.1 241.9L248.9 240.5L249.8 240.5L250.6 240.5L251.5 239.2L252.3 237.8L253.1 239.2L254.0 239.2L254.8 237.8L255.6 239.2L256.5 237.8L257.3 236.4L258.1 236.4L259.0 237.8L259.8 237.8L260.7 235.1L261.5 233.7L262.3 233.7L263.2 233.7L264.0 233.7L264.8 233.7L265.7 233.7L266.5 233.7L267.3 232.3L268.2 232.3L269.0 233.7L269.8 232.3L270.7 231.0L271.5 231.0L272.4 232.3L273.2 231.0L274.0 231.0L274.9 231.0L275.7 231.0L276.5 231.0L277.4 231.0L278.2 228.2L279.0 226.9L279.9 225.5L280.7 224.1L281.6 222.8L282.4 221.4L283.2 220.0L284.1 218.7L284.9 218.7L285.7 217.3L286.6 217.3L287.4 215.9L288.2 214.6L289.1 214.6L289.9 214.6L290.7 214.6L291.6 211.8L292.4 213.2L293.3 213.2L294.1 211.8L294.9 213.2L295.8 211.8L296.6 211.8L297.4 211.8L298.3 211.8L299.1 211.8L299.9 210.5L300.8 210.5L301.6 211.8L302.5 211.8L303.3 211.8L304.1 210.5L305.0 210.5L305.8 210.5L306.6 210.5L307.5 209.1L308.3 207.7L309.1 207.7L310.0 207.7L310.8 205.0L311.6 205.0L312.5 205.0L313.3 203.7L314.2 205.0L315.0 205.0L315.8 203.7L316.7 203.7L317.5 203.7L318.3 202.3L319.2 202.3L320.0 200.9L320.8 200.9L321.7 199.6L322.5 199.6L323.4 199.6L324.2 200.9L325.0 198.2L325.9 198.2L326.7 198.2L327.5 196.8L328.4 196.8L329.2 196.8L330.0 196.8L330.9 198.2L331.7 196.8L332.5 196.8L333.4 196.8L334.2 196.8L335.1 195.5L335.9 195.5L336.7 195.5L337.6 194.1L338.4 194.1L339.2 194.1L340.1 194.1L340.9 194.1L341.7 194.1L342.6 192.7L343.4 194.1L344.3 192.7L345.1 191.4L345.9 192.7L346.8 191.4L347.6 191.4L348.4 190.0L349.3 190.0L350.1 191.4L350.9 190.0L351.8 190.0L352.6 188.6L353.4 190.0L354.3 188.6L355.1 188.6L356.0 188.6L356.8 188.6L357.6 188.6L358.5 187.3L359.3 185.9L360.1 187.3L361.0 187.3L361.8 185.9L362.6 187.3L363.5 185.9L364.3 185.9L365.2 185.9L366.0 184.5L366.8 184.5L367.7 183.2L368.5 183.2L369.3 183.2L370.2 183.2L371.0 184.5L371.8 184.5L372.7 185.9L373.5 184.5L374.3 183.2L375.2 184.5L376.0 183.2L376.9 183.2L377.7 183.2L378.5 181.8L379.4 181.8L380.2 181.8L381.0 181.8L381.9 181.8L382.7 181.8L383.5 181.8L384.4 180.4L385.2 179.1L386.1 179.1L386.9 179.1L387.7 179.1L388.6 177.7L389.4 177.7L390.2 177.7L391.1 176.3L391.9 177.7L392.7 177.7L393.6 176.3L394.4 176.3L395.2 175.0L396.1 176.3L396.9 176.3L397.8 176.3L398.6 176.3L399.4 175.0L400.3 175.0L401.1 175.0L401.9 173.6L402.8 173.6L403.6 173.6L404.4 175.0L405.3 173.6L406.1 173.6L407.0 173.6L407.8 175.0L408.6 172.3L409.5 170.9L410.3 170.9L411.1 170.9L412.0 170.9L412.8 170.9L413.6 172.3L414.5 170.9L415.3 168.2L416.1 168.2L417.0 168.2L417.8 168.2L418.7 166.8L419.5 166.8L420.3 166.8L421.2 166.8L422.0 168.2L422.8 168.2L423.7 166.8L424.5 166.8L425.3 166.8L426.2 165.4L427.0 165.4L427.9 166.8L428.7 165.4L429.5 166.8L430.4 165.4L431.2 165.4L432.0 165.4L432.9 165.4L433.7 164.1L434.5 162.7L435.4 162.7L436.2 162.7L437.0 161.3L437.9 162.7L438.7 164.1L439.6 164.1L440.4 164.1L441.2 165.4L442.1 165.4L442.9 164.1L443.7 164.1L444.6 164.1L445.4 162.7L446.2 162.7L447.1 162.7L447.9 161.3L448.8 161.3L449.6 161.3L450.4 162.7L451.3 162.7L452.1 162.7L452.9 161.3L453.8 161.3L454.6 161.3L455.4 160.0L456.3 161.3L457.1 160.0L457.9 160.0L458.8 160.0L459.6 160.0L460.5 158.6L461.3 157.2L462.1 157.2L463.0 157.2L463.8 157.2L464.6 155.9L465.5 155.9L466.3 155.9L467.1 154.5L468.0 154.5L468.8 154.5L469.7 154.5L470.5 154.5L471.3 154.5L472.2 154.5L473.0 153.1L473.8 153.1L474.7 153.1L475.5 153.1L476.3 154.5L477.2 153.1L478.0 153.1L478.8 153.1L479.7 153.1L480.5 154.5L481.4 154.5L482.2 154.5L483.0 153.1L483.9 153.1L484.7 153.1L485.5 153.1L486.4 151.8L487.2 153.1L488.0 151.8L488.9 150.4L489.7 150.4L490.6 151.8L491.4 151.8L492.2 151.8L493.1 151.8L493.9 150.4L494.7 151.8L495.6 151.8L496.4 151.8L497.2 151.8L498.1 151.8L498.9 151.8L499.7 150.4L500.6 150.4L501.4 151.8L502.3 151.8L503.1 150.4L503.9 150.4L504.8 150.4" fill="none" stroke="#4472C4" stroke-width="3.0" stroke-linejoin="round"/>
<path d="M87.6 349.7L88.4 344.3L89.3 338.8L90.1 330.6L90.9 326.5L91.8 321.1L92.6 318.3L93.5 314.2L94.3 311.5L95.1 307.4L96.0 304.7L96.8 302.0L97.6 302.0L98.5 302.0L99.3 300.6L100.1 297.9L101.0 296.5L101.8 295.1L102.6 292.4L103.5 291.0L104.3 291.0L105.2 289.7L106.0 288.3L106.8 286.9L107.7 285.6L108.5 284.2L109.3 284.2L110.2 281.5L111.0 280.1L111.8 280.1L112.7 278.7L113.5 277.4L114.4 276.0L115.2 273.3L116.0 273.3L116.9 270.6L117.7 267.8L118.5 267.8L119.4 267.8L120.2 266.5L121.0 265.1L121.9 263.7L122.7 262.4L123.5 262.4L124.4 262.4L125.2 261.0L126.1 258.3L126.9 258.3L127.7 258.3L128.6 256.9L129.4 254.2L130.2 254.2L131.1 255.5L131.9 254.2L132.7 252.8L133.6 252.8L134.4 251.4L135.3 250.1L136.1 246.0L136.9 244.6L137.8 243.2L138.6 243.2L139.4 241.9L140.3 241.9L141.1 240.5L141.9 240.5L142.8 239.2L143.6 237.8L144.4 236.4L145.3 237.8L146.1 237.8L147.0 237.8L147.8 237.8L148.6 237.8L149.5 236.4L150.3 235.1L151.1 237.8L152.0 236.4L152.8 236.4L153.6 236.4L154.5 236.4L155.3 233.7L156.2 233.7L157.0 233.7L157.8 233.7L158.7 232.3L159.5 232.3L160.3 231.0L161.2 229.6L162.0 229.6L162.8 228.2L163.7 225.5L164.5 224.1L165.3 224.1L166.2 224.1L167.0 221.4L167.9 221.4L168.7 220.0L169.5 218.7L170.4 215.9L171.2 214.6L172.0 214.6L172.9 214.6L173.7 214.6L174.5 214.6L175.4 213.2L176.2 214.6L177.1 214.6L177.9 213.2L178.7 211.8L179.6 210.5L180.4 210.5L181.2 210.5L182.1 209.1L182.9 207.7L183.7 206.4L184.6 206.4L185.4 206.4L186.2 206.4L187.1 203.7L187.9 203.7L188.8 202.3L189.6 200.9L190.4 200.9L191.3 199.6L192.1 199.6L192.9 198.2L193.8 196.8L194.6 196.8L195.4 196.8L196.3 195.5L197.1 194.1L198.0 192.7L198.8 191.4L199.6 190.0L200.5 190.0L201.3 188.6L202.1 187.3L203.0 187.3L203.8 187.3L204.6 185.9L205.5 184.5L206.3 183.2L207.1 183.2L208.0 181.8L208.8 179.1L209.7 179.1L210.5 179.1L211.3 177.7L212.2 176.3L213.0 176.3L213.8 173.6L214.7 172.3L215.5 172.3L216.3 172.3L217.2 172.3L218.0 170.9L218.9 169.5L219.7 169.5L220.5 168.2L221.4 166.8L222.2 165.4L223.0 164.1L223.9 162.7L224.7 162.7L225.5 161.3L226.4 158.6L227.2 158.6L228.0 158.6L228.9 157.2L229.7 157.2L230.6 157.2L231.4 155.9L232.2 154.5L233.1 154.5L233.9 155.9L234.7 155.9L235.6 155.9L236.4 153.1L237.2 153.1L238.1 150.4L238.9 150.4L239.8 150.4L240.6 150.4L241.4 150.4L242.3 149.0L243.1 147.7L243.9 149.0L244.8 147.7L245.6 147.7L246.4 146.3L247.3 146.3L248.1 143.6L248.9 143.6L249.8 140.9L250.6 140.9L251.5 138.1L252.3 138.1L253.1 135.4L254.0 135.4L254.8 134.0L255.6 131.3L256.5 132.7L257.3 132.7L258.1 131.3L259.0 132.7L259.8 132.7L260.7 132.7L261.5 131.3L262.3 129.9L263.2 129.9L264.0 128.6L264.8 129.9L265.7 127.2L266.5 127.2L267.3 125.8L268.2 127.2L269.0 127.2L269.8 127.2L270.7 127.2L271.5 128.6L272.4 128.6L273.2 128.6L274.0 128.6L274.9 129.9L275.7 129.9L276.5 128.6L277.4 127.2L278.2 125.8L279.0 125.8L279.9 124.5L280.7 123.1L281.6 121.7L282.4 120.4L283.2 119.0L284.1 119.0L284.9 119.0L285.7 119.0L286.6 117.6L287.4 117.6L288.2 117.6L289.1 116.3L289.9 117.6L290.7 117.6L291.6 117.6L292.4 116.3L293.3 116.3L294.1 116.3L294.9 114.9L295.8 114.9L296.6 116.3L297.4 114.9L298.3 114.9L299.1 113.5L299.9 112.2L300.8 112.2L301.6 112.2L302.5 112.2L303.3 112.2L304.1 110.8L305.0 110.8L305.8 110.8L306.6 112.2L307.5 112.2L308.3 112.2L309.1 110.8L310.0 110.8L310.8 110.8L311.6 110.8L312.5 110.8L313.3 109.4L314.2 108.1L315.0 105.4L315.8 105.4L316.7 104.0L317.5 105.4L318.3 104.0L319.2 104.0L320.0 105.4L320.8 102.6L321.7 104.0L322.5 102.6L323.4 101.3L324.2 101.3L325.0 101.3L325.9 101.3L326.7 99.9L327.5 99.9L328.4 101.3L329.2 101.3L330.0 102.6L330.9 99.9L331.7 99.9L332.5 99.9L333.4 99.9L334.2 99.9L335.1 99.9L335.9 99.9L336.7 99.9L337.6 101.3L338.4 99.9L339.2 99.9L340.1 99.9L340.9 99.9L341.7 97.2L342.6 98.5L343.4 97.2L344.3 97.2L345.1 97.2L345.9 97.2L346.8 97.2L347.6 97.2L348.4 95.8L349.3 95.8L350.1 95.8L350.9 94.4L351.8 94.4L352.6 93.1L353.4 93.1L354.3 93.1L355.1 93.1L356.0 91.7L356.8 90.3L357.6 87.6L358.5 87.6L359.3 87.6L360.1 84.9L361.0 84.9L361.8 84.9L362.6 84.9L363.5 86.2L364.3 84.9L365.2 83.5L366.0 84.9L366.8 84.9L367.7 83.5L368.5 83.5L369.3 82.1L370.2 82.1L371.0 83.5L371.8 83.5L372.7 83.5L373.5 83.5L374.3 83.5L375.2 83.5L376.0 83.5L376.9 82.1L377.7 83.5L378.5 83.5L379.4 82.1L380.2 83.5L381.0 83.5L381.9 82.1L382.7 83.5L383.5 80.8L384.4 82.1L385.2 83.5L386.1 82.1L386.9 79.4L387.7 80.8L388.6 80.8L389.4 79.4L390.2 79.4L391.1 78.0L391.9 76.7L392.7 76.7L393.6 78.0L394.4 78.0L395.2 76.7L396.1 75.3L396.9 75.3L397.8 74.0L398.6 75.3L399.4 75.3L400.3 75.3L401.1 74.0L401.9 72.6L402.8 72.6L403.6 72.6L404.4 71.2L405.3 71.2L406.1 71.2L407.0 68.5L407.8 68.5L408.6 68.5L409.5 68.5L410.3 67.1L411.1 65.8L412.0 65.8L412.8 65.8L413.6 64.4L414.5 65.8L415.3 64.4L416.1 64.4L417.0 65.8L417.8 65.8L418.7 65.8L419.5 64.4L420.3 64.4L421.2 63.0L422.0 61.7L422.8 63.0L423.7 63.0L424.5 63.0L425.3 61.7L426.2 61.7L427.0 61.7L427.9 61.7L428.7 61.7L429.5 60.3L430.4 61.7L431.2 61.7L432.0 63.0L432.9 63.0L433.7 63.0L434.5 61.7L435.4 60.3L436.2 58.9L437.0 57.6L437.9 58.9L438.7 57.6L439.6 56.2L440.4 57.6L441.2 57.6L442.1 54.8L442.9 54.8L443.7 56.2L444.6 56.2L445.4 54.8L446.2 54.8L447.1 53.5L447.9 53.5L448.8 53.5L449.6 53.5L450.4 53.5L451.3 53.5L452.1 52.1L452.9 53.5L453.8 52.1L454.6 52.1L455.4 52.1L456.3 50.7L457.1 52.1L457.9 52.1L458.8 53.5L459.6 53.5L460.5 52.1L461.3 50.7L462.1 52.1L463.0 52.1L463.8 50.7L464.6 50.7L465.5 49.4L466.3 49.4L467.1 49.4L468.0 49.4L468.8 49.4L469.7 49.4L470.5 50.7L471.3 49.4L472.2 50.7L473.0 50.7L473.8 50.7L474.7 50.7L475.5 49.4L476.3 50.7L477.2 49.4L478.0 49.4L478.8 48.0L479.7 48.0L480.5 46.6L481.4 46.6L482.2 45.3L483.0 45.3L483.9 45.3L484.7 43.9L485.5 42.5L486.4 43.9L487.2 43.9L488.0 42.5L488.9 43.9L489.7 41.2L490.6 41.2L491.4 39.8L492.2 39.8L493.1 39.8L493.9 39.8L494.7 39.8L495.6 39.8L496.4 38.5L497.2 38.5L498.1 38.5L498.9 38.5L499.7 39.8L500.6 39.8L501.4 38.5L502.3 38.5L503.1 38.5L503.9 37.1L504.8 37.1" fill="none" stroke="#70AD47" stroke-width="3.0" stroke-linejoin="round"/>
<text x="73.20" y="419.50" text-anchor="end" font-size="21.80">-20</text>
<text x="71.40" y="357.54" text-anchor="end" font-size="21.80">0</text>
<text x="73.60" y="294.38" text-anchor="end" font-size="21.80">20</text>
<text x="73.60" y="230.32" text-anchor="end" font-size="21.80">40</text>
<text x="73.60" y="167.85" text-anchor="end" font-size="21.80">60</text>
<text x="73.60" y="104.19" text-anchor="end" font-size="21.80">80</text>
<text x="73.00" y="41.13" text-anchor="end" font-size="21.80">100</text>
<text x="87.60" y="445.50" text-anchor="middle" font-size="21.80">0</text>
<text x="171.20" y="445.50" text-anchor="middle" font-size="21.80">200</text>
<text x="254.80" y="445.50" text-anchor="middle" font-size="21.80">400</text>
<text x="338.40" y="445.50" text-anchor="middle" font-size="21.80">600</text>
<text x="422.00" y="445.50" text-anchor="middle" font-size="21.80">800</text>
<text x="505.60" y="445.50" text-anchor="middle" font-size="21.80">1000</text>
<text x="589.20" y="445.50" text-anchor="middle" font-size="21.80">1200</text>
<text x="359.30" y="478.70" font-size="25" text-anchor="middle">Time (ps)</text>
<text transform="translate(21.5 209.7) rotate(-90)" font-size="25" text-anchor="middle">Carbon loss density (atoms/nm²)</text>
<text x="97.2" y="44.6" font-size="44">(a)</text>
<line x1="526.90" y1="29.70" x2="556.30" y2="29.70" stroke="#5B9BD5" stroke-width="2.8" stroke-linecap="round"/>
<text x="562.40" y="34.90" font-size="21.60">1 eV</text>
<line x1="526.90" y1="61.72" x2="556.30" y2="61.72" stroke="#ED7D31" stroke-width="2.8" stroke-linecap="round"/>
<text x="562.40" y="67.38" font-size="21.60">3 eV</text>
<line x1="526.90" y1="93.74" x2="556.30" y2="93.74" stroke="#255E91" stroke-width="2.8" stroke-linecap="round"/>
<text x="562.40" y="99.86" font-size="21.60">5 eV</text>
<line x1="526.90" y1="125.76" x2="556.30" y2="125.76" stroke="#000000" stroke-width="2.8" stroke-linecap="round"/>
<text x="562.40" y="132.34" font-size="21.60">7 eV</text>
<line x1="526.90" y1="157.78" x2="556.30" y2="157.78" stroke="#FFC000" stroke-width="2.8" stroke-linecap="round"/>
<text x="562.40" y="164.82" font-size="21.60">10 eV</text>
<line x1="526.90" y1="189.80" x2="556.30" y2="189.80" stroke="#4472C4" stroke-width="2.8" stroke-linecap="round"/>
<text x="562.40" y="197.30" font-size="21.60">15 eV</text>
<line x1="526.90" y1="221.82" x2="556.30" y2="221.82" stroke="#70AD47" stroke-width="2.8" stroke-linecap="round"/>
<text x="562.40" y="229.78" font-size="21.60">20 eV</text>
<rect x="89.50" y="517.10" width="541.50" height="418.00" fill="none" stroke="#000" stroke-width="2.3" stroke-linejoin="round"/>
<line x1="89.50" y1="865.43" x2="96.00" y2="865.43" stroke="#000" stroke-width="2.2"/>
<line x1="89.50" y1="795.77" x2="96.00" y2="795.77" stroke="#000" stroke-width="2.2"/>
<line x1="89.50" y1="726.10" x2="96.00" y2="726.10" stroke="#000" stroke-width="2.2"/>
<line x1="89.50" y1="656.43" x2="96.00" y2="656.43" stroke="#000" stroke-width="2.2"/>
<line x1="89.50" y1="586.77" x2="96.00" y2="586.77" stroke="#000" stroke-width="2.2"/>
<line x1="172.81" y1="935.10" x2="172.81" y2="928.60" stroke="#000" stroke-width="2.2"/>
<line x1="256.12" y1="935.10" x2="256.12" y2="928.60" stroke="#000" stroke-width="2.2"/>
<line x1="339.42" y1="935.10" x2="339.42" y2="928.60" stroke="#000" stroke-width="2.2"/>
<line x1="422.73" y1="935.10" x2="422.73" y2="928.60" stroke="#000" stroke-width="2.2"/>
<line x1="506.04" y1="935.10" x2="506.04" y2="928.60" stroke="#000" stroke-width="2.2"/>
<line x1="589.35" y1="935.10" x2="589.35" y2="928.60" stroke="#000" stroke-width="2.2"/>
<path d="M89.5 935.1L94.1 911.0L94.9 898.9L95.7 892.9L96.6 904.9L97.4 904.9L98.2 904.9L99.1 904.9L99.9 904.9L100.7 904.9L101.6 904.9L102.4 904.9L103.2 904.9L104.1 904.9L104.9 911.0L105.7 904.9L106.6 911.0L107.4 911.0L108.2 911.0L109.1 904.9L109.9 904.9L110.7 904.9L111.6 917.0L112.4 917.0L113.2 917.0L114.1 904.9L114.9 904.9L115.7 911.0L116.6 911.0L117.4 911.0L118.2 911.0L119.1 904.9L119.9 911.0L120.7 911.0L121.6 911.0L122.4 904.9L123.2 904.9L124.1 904.9L124.9 904.9L125.7 911.0L126.6 904.9L127.4 904.9L128.2 904.9L129.1 904.9L129.9 904.9L130.7 904.9L131.6 904.9L132.4 911.0L133.2 904.9L134.1 917.0L134.9 917.0L135.7 898.9L136.6 904.9L137.4 904.9L138.2 904.9L139.1 904.9L139.9 904.9L140.7 911.0L141.6 911.0L142.4 911.0L143.2 911.0L144.1 911.0L144.9 898.9L145.7 898.9L146.6 898.9L147.4 904.9L148.2 904.9L149.1 904.9L149.9 898.9L150.7 898.9L151.6 898.9L152.4 898.9L153.2 898.9L154.1 898.9L154.9 892.9L155.7 892.9L156.6 898.9L157.4 898.9L158.2 898.9L159.1 898.9L159.9 892.9L160.7 886.8L161.6 886.8L162.4 886.8L163.2 886.8L164.1 886.8L164.9 886.8L165.7 898.9L166.6 886.8L167.4 886.8L168.2 892.9L169.1 892.9L169.9 892.9L170.7 892.9L171.6 892.9L172.4 886.8L173.2 892.9L174.1 892.9L174.9 892.9L175.7 886.8L176.6 886.8L177.4 886.8L178.2 892.9L179.1 892.9L179.9 892.9L180.7 892.9L181.6 886.8L182.4 886.8L183.2 886.8L184.1 886.8L184.9 886.8L185.7 886.8L186.6 898.9L187.4 886.8L188.2 892.9L189.1 892.9L189.9 892.9L190.7 886.8L191.6 892.9L192.4 886.8L193.2 886.8L194.1 892.9L194.9 892.9L195.7 886.8L196.6 886.8L197.4 886.8L198.2 886.8L199.0 880.8L199.9 886.8L200.7 886.8L201.5 892.9L202.4 892.9L203.2 892.9L204.0 880.8L204.9 874.8L205.7 874.8L206.5 874.8L207.4 880.8L208.2 874.8L209.0 868.7L209.9 874.8L210.7 874.8L211.5 874.8L212.4 874.8L213.2 880.8L214.0 874.8L214.9 880.8L215.7 880.8L216.5 880.8L217.4 874.8L218.2 874.8L219.0 880.8L219.9 880.8L220.7 874.8L221.5 880.8L222.4 880.8L223.2 880.8L224.0 874.8L224.9 874.8L225.7 880.8L226.5 880.8L227.4 880.8L228.2 874.8L229.0 874.8L229.9 874.8L230.7 874.8L231.5 886.8L232.4 886.8L233.2 874.8L234.0 874.8L234.9 874.8L235.7 874.8L236.5 874.8L237.4 874.8L238.2 874.8L239.0 874.8L239.9 874.8L240.7 880.8L241.5 880.8L242.4 874.8L243.2 886.8L244.0 886.8L244.9 874.8L245.7 874.8L246.5 874.8L247.4 874.8L248.2 874.8L249.0 874.8L249.9 880.8L250.7 880.8L251.5 880.8L252.4 874.8L253.2 874.8L254.0 874.8L254.9 874.8L255.7 880.8L256.5 880.8L257.4 880.8L258.2 874.8L259.0 874.8L259.9 880.8L260.7 886.8L261.5 874.8L262.4 874.8L263.2 874.8L264.0 880.8L264.9 880.8L265.7 874.8L266.5 868.7L267.4 868.7L268.2 868.7L269.0 868.7L269.9 868.7L270.7 868.7L271.5 868.7L272.4 880.8L273.2 880.8L274.0 880.8L274.9 868.7L275.7 874.8L276.5 874.8L277.4 874.8L278.2 868.7L279.0 868.7L279.9 868.7L280.7 874.8L281.5 868.7L282.4 868.7L283.2 868.7L284.0 874.8L284.9 874.8L285.7 874.8L286.5 868.7L287.4 868.7L288.2 874.8L289.0 874.8L289.9 874.8L290.7 880.8L291.5 880.8L292.4 880.8L293.2 880.8L294.0 880.8L294.9 880.8L295.7 874.8L296.5 886.8L297.4 874.8L298.2 880.8L299.0 880.8L299.9 874.8L300.7 874.8L301.5 880.8L302.4 874.8L303.2 868.7L304.0 874.8L304.9 874.8L305.7 874.8L306.5 874.8L307.3 880.8L308.2 880.8L309.0 880.8L309.8 880.8L310.7 874.8L311.5 874.8L312.3 880.8L313.2 880.8L314.0 880.8L314.8 874.8L315.7 874.8L316.5 880.8L317.3 874.8L318.2 874.8L319.0 874.8L319.8 874.8L320.7 874.8L321.5 880.8L322.3 880.8L323.2 880.8L324.0 880.8L324.8 880.8L325.7 874.8L326.5 874.8L327.3 874.8L328.2 874.8L329.0 874.8L329.8 874.8L330.7 886.8L331.5 874.8L332.3 874.8L333.2 874.8L334.0 874.8L334.8 868.7L335.7 868.7L336.5 874.8L337.3 874.8L338.2 856.7L339.0 874.8L339.8 874.8L340.7 868.7L341.5 868.7L342.3 868.7L343.2 868.7L344.0 880.8L344.8 880.8L345.7 868.7L346.5 874.8L347.3 874.8L348.2 874.8L349.0 868.7L349.8 874.8L350.7 874.8L351.5 874.8L352.3 862.7L353.2 862.7L354.0 862.7L354.8 850.6L355.7 850.6L356.5 850.6L357.3 856.7L358.2 856.7L359.0 856.7L359.8 856.7L360.7 862.7L361.5 862.7L362.3 862.7L363.2 850.6L364.0 856.7L364.8 862.7L365.7 862.7L366.5 862.7L367.3 862.7L368.2 862.7L369.0 862.7L369.8 856.7L370.7 856.7L371.5 856.7L372.3 862.7L373.2 862.7L374.0 862.7L374.8 856.7L375.7 856.7L376.5 856.7L377.3 856.7L378.2 862.7L379.0 862.7L379.8 862.7L380.7 856.7L381.5 862.7L382.3 856.7L383.2 868.7L384.0 868.7L384.8 856.7L385.7 850.6L386.5 850.6L387.3 856.7L388.2 856.7L389.0 862.7L389.8 862.7L390.7 862.7L391.5 856.7L392.3 862.7L393.2 856.7L394.0 862.7L394.8 856.7L395.7 856.7L396.5 856.7L397.3 856.7L398.2 856.7L399.0 856.7L399.8 856.7L400.7 868.7L401.5 868.7L402.3 862.7L403.2 856.7L404.0 856.7L404.8 856.7L405.7 862.7L406.5 862.7L407.3 862.7L408.2 868.7L409.0 856.7L409.8 862.7L410.7 862.7L411.5 862.7L412.3 862.7L413.2 856.7L414.0 856.7L414.8 856.7L415.6 856.7L416.5 856.7L417.3 856.7L418.1 856.7L419.0 856.7L419.8 856.7L420.6 856.7L421.5 856.7L422.3 862.7L423.1 862.7L424.0 856.7L424.8 856.7L425.6 856.7L426.5 856.7L427.3 856.7L428.1 856.7L429.0 856.7L429.8 856.7L430.6 856.7L431.5 856.7L432.3 856.7L433.1 856.7L434.0 862.7L434.8 862.7L435.6 856.7L436.5 856.7L437.3 856.7L438.1 856.7L439.0 856.7L439.8 856.7L440.6 862.7L441.5 856.7L442.3 856.7L443.1 862.7L444.0 862.7L444.8 862.7L445.6 862.7L446.5 862.7L447.3 856.7L448.1 856.7L449.0 856.7L449.8 856.7L450.6 856.7L451.5 856.7L452.3 856.7L453.1 862.7L454.0 862.7L454.8 856.7L455.6 862.7L456.5 862.7L457.3 862.7L458.1 856.7L459.0 856.7L459.8 862.7L460.6 862.7L461.5 868.7L462.3 868.7L463.1 856.7L464.0 856.7L464.8 868.7L465.6 868.7L466.5 856.7L467.3 862.7L468.1 862.7L469.0 862.7L469.8 856.7L470.6 856.7L471.5 862.7L472.3 862.7L473.1 862.7L474.0 862.7L474.8 856.7L475.6 856.7L476.5 862.7L477.3 868.7L478.1 868.7L479.0 856.7L479.8 856.7L480.6 856.7L481.5 856.7L482.3 862.7L483.1 856.7L484.0 856.7L484.8 856.7L485.6 862.7L486.5 862.7L487.3 862.7L488.1 862.7L489.0 862.7L489.8 856.7L490.6 862.7L491.5 850.6L492.3 850.6L493.1 844.6L494.0 844.6L494.8 844.6L495.6 856.7L496.5 856.7L497.3 850.6L498.1 856.7L499.0 856.7L499.8 856.7L500.6 868.7L501.5 868.7L502.3 856.7L503.1 856.7L504.0 856.7L504.8 856.7L505.6 856.7" fill="none" stroke="#5B9BD5" stroke-width="3.40" stroke-linejoin="round"/>
<path d="M89.5 935.1L91.6 820.5L92.4 820.5L93.2 814.4L94.1 802.4L94.9 808.4L95.7 802.4L96.6 802.4L97.4 802.4L98.2 802.4L99.1 802.4L99.9 802.4L100.7 802.4L101.6 802.4L102.4 796.3L103.2 796.3L104.1 790.3L104.9 790.3L105.7 790.3L106.6 790.3L107.4 784.3L108.2 784.3L109.1 784.3L109.9 784.3L110.7 784.3L111.6 784.3L112.4 784.3L113.2 778.2L114.1 790.3L114.9 790.3L115.7 790.3L116.6 778.2L117.4 778.2L118.2 790.3L119.1 790.3L119.9 790.3L120.7 778.2L121.6 778.2L122.4 772.2L123.2 772.2L124.1 772.2L124.9 772.2L125.7 772.2L126.6 772.2L127.4 772.2L128.2 760.1L129.1 760.1L129.9 772.2L130.7 772.2L131.6 766.2L132.4 766.2L133.2 766.2L134.1 766.2L134.9 766.2L135.7 766.2L136.6 766.2L137.4 754.1L138.2 760.1L139.1 766.2L139.9 772.2L140.7 772.2L141.6 772.2L142.4 766.2L143.2 754.1L144.1 754.1L144.9 754.1L145.7 760.1L146.6 760.1L147.4 760.1L148.2 760.1L149.1 754.1L149.9 754.1L150.7 748.1L151.6 754.1L152.4 754.1L153.2 754.1L154.1 760.1L154.9 754.1L155.7 748.1L156.6 754.1L157.4 754.1L158.2 754.1L159.1 748.1L159.9 748.1L160.7 742.0L161.6 748.1L162.4 748.1L163.2 748.1L164.1 748.1L164.9 736.0L165.7 736.0L166.6 736.0L167.4 748.1L168.2 748.1L169.1 748.1L169.9 748.1L170.7 748.1L171.6 748.1L172.4 748.1L173.2 748.1L174.1 748.1L174.9 748.1L175.7 754.1L176.6 748.1L177.4 748.1L178.2 748.1L179.1 742.0L179.9 742.0L180.7 736.0L181.6 736.0L182.4 742.0L183.2 742.0L184.1 754.1L184.9 754.1L185.7 748.1L186.6 742.0L187.4 742.0L188.2 742.0L189.1 742.0L189.9 742.0L190.7 742.0L191.6 748.1L192.4 748.1L193.2 748.1L194.1 742.0L194.9 748.1L195.7 748.1L196.6 754.1L197.4 754.1L198.2 748.1L199.0 748.1L199.9 754.1L200.7 754.1L201.5 760.1L202.4 760.1L203.2 760.1L204.0 754.1L204.9 748.1L205.7 748.1L206.5 754.1L207.4 754.1L208.2 754.1L209.0 748.1L209.9 748.1L210.7 748.1L211.5 760.1L212.4 760.1L213.2 754.1L214.0 754.1L214.9 754.1L215.7 748.1L216.5 748.1L217.4 742.0L218.2 742.0L219.0 742.0L219.9 754.1L220.7 754.1L221.5 754.1L222.4 754.1L223.2 748.1L224.0 748.1L224.9 748.1L225.7 760.1L226.5 754.1L227.4 754.1L228.2 748.1L229.0 748.1L229.9 748.1L230.7 742.0L231.5 748.1L232.4 748.1L233.2 748.1L234.0 742.0L234.9 742.0L235.7 748.1L236.5 748.1L237.4 748.1L238.2 742.0L239.0 742.0L239.9 754.1L240.7 754.1L241.5 754.1L242.4 748.1L243.2 748.1L244.0 748.1L244.9 748.1L245.7 748.1L246.5 748.1L247.4 748.1L248.2 748.1L249.0 754.1L249.9 748.1L250.7 748.1L251.5 748.1L252.4 748.1L253.2 754.1L254.0 754.1L254.9 754.1L255.7 748.1L256.5 754.1L257.4 754.1L258.2 754.1L259.0 760.1L259.9 760.1L260.7 760.1L261.5 760.1L262.4 760.1L263.2 754.1L264.0 754.1L264.9 754.1L265.7 754.1L266.5 754.1L267.4 754.1L268.2 766.2L269.0 754.1L269.9 754.1L270.7 760.1L271.5 760.1L272.4 742.0L273.2 742.0L274.0 760.1L274.9 754.1L275.7 754.1L276.5 754.1L277.4 754.1L278.2 754.1L279.0 754.1L279.9 748.1L280.7 754.1L281.5 754.1L282.4 754.1L283.2 754.1L284.0 754.1L284.9 748.1L285.7 748.1L286.5 748.1L287.4 736.0L288.2 736.0L289.0 748.1L289.9 748.1L290.7 748.1L291.5 748.1L292.4 754.1L293.2 754.1L294.0 760.1L294.9 754.1L295.7 754.1L296.5 754.1L297.4 754.1L298.2 754.1L299.0 754.1L299.9 754.1L300.7 760.1L301.5 754.1L302.4 754.1L303.2 754.1L304.0 754.1L304.9 760.1L305.7 760.1L306.5 754.1L307.3 754.1L308.2 760.1L309.0 760.1L309.8 760.1L310.7 748.1L311.5 748.1L312.3 748.1L313.2 748.1L314.0 754.1L314.8 754.1L315.7 760.1L316.5 760.1L317.3 760.1L318.2 760.1L319.0 760.1L319.8 760.1L320.7 760.1L321.5 754.1L322.3 754.1L323.2 754.1L324.0 754.1L324.8 754.1L325.7 754.1L326.5 754.1L327.3 754.1L328.2 766.2L329.0 766.2L329.8 754.1L330.7 760.1L331.5 760.1L332.3 760.1L333.2 754.1L334.0 754.1L334.8 748.1L335.7 748.1L336.5 754.1L337.3 754.1L338.2 754.1L339.0 760.1L339.8 760.1L340.7 754.1L341.5 754.1L342.3 754.1L343.2 760.1L344.0 754.1L344.8 754.1L345.7 754.1L346.5 754.1L347.3 754.1L348.2 754.1L349.0 754.1L349.8 754.1L350.7 754.1L351.5 754.1L352.3 754.1L353.2 754.1L354.0 754.1L354.8 754.1L355.7 754.1L356.5 754.1L357.3 754.1L358.2 748.1L359.0 748.1L359.8 748.1L360.7 748.1L361.5 748.1L362.3 748.1L363.2 742.0L364.0 742.0L364.8 742.0L365.7 748.1L366.5 742.0L367.3 742.0L368.2 742.0L369.0 742.0L369.8 742.0L370.7 742.0L371.5 742.0L372.3 742.0L373.2 742.0L374.0 748.1L374.8 748.1L375.7 748.1L376.5 748.1L377.3 748.1L378.2 748.1L379.0 754.1L379.8 754.1L380.7 754.1L381.5 748.1L382.3 748.1L383.2 754.1L384.0 754.1L384.8 754.1L385.7 754.1L386.5 754.1L387.3 754.1L388.2 760.1L389.0 760.1L389.8 754.1L390.7 754.1L391.5 760.1L392.3 760.1L393.2 760.1L394.0 754.1L394.8 754.1L395.7 760.1L396.5 760.1L397.3 754.1L398.2 754.1L399.0 748.1L399.8 748.1L400.7 748.1L401.5 748.1L402.3 748.1L403.2 748.1L404.0 736.0L404.8 736.0L405.7 742.0L406.5 742.0L407.3 742.0L408.2 754.1L409.0 742.0L409.8 748.1L410.7 742.0L411.5 736.0L412.3 736.0L413.2 742.0L414.0 742.0L414.8 736.0L415.6 736.0L416.5 723.9L417.3 736.0L418.1 736.0L419.0 736.0L419.8 736.0L420.6 736.0L421.5 730.0L422.3 730.0L423.1 730.0L424.0 730.0L424.8 730.0L425.6 730.0L426.5 730.0L427.3 730.0L428.1 730.0L429.0 736.0L429.8 742.0L430.6 742.0L431.5 742.0L432.3 723.9L433.1 723.9L434.0 723.9L434.8 736.0L435.6 736.0L436.5 730.0L437.3 742.0L438.1 730.0L439.0 730.0L439.8 730.0L440.6 730.0L441.5 730.0L442.3 742.0L443.1 742.0L444.0 748.1L444.8 736.0L445.6 736.0L446.5 736.0L447.3 736.0L448.1 723.9L449.0 723.9L449.8 736.0L450.6 742.0L451.5 742.0L452.3 742.0L453.1 736.0L454.0 736.0L454.8 736.0L455.6 736.0L456.5 730.0L457.3 736.0L458.1 742.0L459.0 736.0L459.8 736.0L460.6 723.9L461.5 723.9L462.3 723.9L463.1 717.9L464.0 711.9L464.8 711.9L465.6 711.9L466.5 711.9L467.3 711.9L468.1 711.9L469.0 711.9L469.8 711.9L470.6 711.9L471.5 723.9L472.3 711.9L473.1 711.9L474.0 711.9L474.8 711.9L475.6 717.9L476.5 711.9L477.3 705.8L478.1 705.8L479.0 699.8L479.8 699.8L480.6 711.9L481.5 705.8L482.3 705.8L483.1 699.8L484.0 699.8L484.8 705.8L485.6 705.8L486.5 705.8L487.3 711.9L488.1 711.9L489.0 705.8L489.8 705.8L490.6 711.9L491.5 711.9L492.3 705.8L493.1 705.8L494.0 705.8L494.8 705.8L495.6 711.9L496.5 711.9L497.3 711.9L498.1 711.9L499.0 717.9L499.8 717.9L500.6 711.9L501.5 705.8L502.3 711.9L503.1 711.9L504.0 717.9L504.8 711.9L505.6 705.8" fill="none" stroke="#ED7D31" stroke-width="3.40" stroke-linejoin="round"/>
<path d="M89.5 935.1L91.6 784.3L92.4 796.3L93.2 784.3L94.1 784.3L94.9 790.3L95.7 784.3L96.6 784.3L97.4 784.3L98.2 784.3L99.1 772.2L99.9 772.2L100.7 772.2L101.6 784.3L102.4 778.2L103.2 778.2L104.1 784.3L104.9 784.3L105.7 790.3L106.6 790.3L107.4 790.3L108.2 784.3L109.1 790.3L109.9 790.3L110.7 790.3L111.6 778.2L112.4 778.2L113.2 784.3L114.1 784.3L114.9 784.3L115.7 784.3L116.6 784.3L117.4 784.3L118.2 784.3L119.1 784.3L119.9 784.3L120.7 784.3L121.6 784.3L122.4 784.3L123.2 784.3L124.1 784.3L124.9 790.3L125.7 784.3L126.6 790.3L127.4 790.3L128.2 784.3L129.1 784.3L129.9 778.2L130.7 772.2L131.6 772.2L132.4 772.2L133.2 772.2L134.1 772.2L134.9 772.2L135.7 772.2L136.6 772.2L137.4 772.2L138.2 772.2L139.1 772.2L139.9 772.2L140.7 772.2L141.6 766.2L142.4 766.2L143.2 772.2L144.1 772.2L144.9 766.2L145.7 766.2L146.6 766.2L147.4 772.2L148.2 766.2L149.1 766.2L149.9 766.2L150.7 778.2L151.6 778.2L152.4 778.2L153.2 772.2L154.1 772.2L154.9 778.2L155.7 778.2L156.6 778.2L157.4 778.2L158.2 778.2L159.1 778.2L159.9 778.2L160.7 778.2L161.6 778.2L162.4 778.2L163.2 778.2L164.1 778.2L164.9 772.2L165.7 772.2L166.6 778.2L167.4 778.2L168.2 778.2L169.1 772.2L169.9 778.2L170.7 772.2L171.6 766.2L172.4 778.2L173.2 778.2L174.1 778.2L174.9 778.2L175.7 778.2L176.6 778.2L177.4 778.2L178.2 778.2L179.1 778.2L179.9 778.2L180.7 772.2L181.6 772.2L182.4 772.2L183.2 778.2L184.1 772.2L184.9 772.2L185.7 772.2L186.6 772.2L187.4 772.2L188.2 772.2L189.1 760.1L189.9 760.1L190.7 772.2L191.6 772.2L192.4 760.1L193.2 772.2L194.1 772.2L194.9 766.2L195.7 766.2L196.6 760.1L197.4 754.1L198.2 748.1L199.0 760.1L199.9 772.2L200.7 760.1L201.5 760.1L202.4 760.1L203.2 760.1L204.0 760.1L204.9 760.1L205.7 760.1L206.5 754.1L207.4 754.1L208.2 754.1L209.0 754.1L209.9 754.1L210.7 760.1L211.5 760.1L212.4 760.1L213.2 760.1L214.0 772.2L214.9 772.2L215.7 772.2L216.5 760.1L217.4 772.2L218.2 760.1L219.0 754.1L219.9 754.1L220.7 766.2L221.5 766.2L222.4 766.2L223.2 766.2L224.0 766.2L224.9 766.2L225.7 748.1L226.5 748.1L227.4 748.1L228.2 754.1L229.0 754.1L229.9 754.1L230.7 748.1L231.5 754.1L232.4 754.1L233.2 748.1L234.0 748.1L234.9 748.1L235.7 742.0L236.5 742.0L237.4 748.1L238.2 748.1L239.0 748.1L239.9 742.0L240.7 748.1L241.5 748.1L242.4 748.1L243.2 748.1L244.0 748.1L244.9 748.1L245.7 754.1L246.5 754.1L247.4 754.1L248.2 748.1L249.0 748.1L249.9 760.1L250.7 760.1L251.5 748.1L252.4 748.1L253.2 742.0L254.0 742.0L254.9 766.2L255.7 760.1L256.5 766.2L257.4 742.0L258.2 736.0L259.0 748.1L259.9 748.1L260.7 754.1L261.5 754.1L262.4 748.1L263.2 748.1L264.0 748.1L264.9 748.1L265.7 748.1L266.5 742.0L267.4 742.0L268.2 748.1L269.0 748.1L269.9 748.1L270.7 754.1L271.5 748.1L272.4 748.1L273.2 748.1L274.0 748.1L274.9 748.1L275.7 754.1L276.5 754.1L277.4 754.1L278.2 742.0L279.0 748.1L279.9 754.1L280.7 748.1L281.5 748.1L282.4 748.1L283.2 748.1L284.0 748.1L284.9 748.1L285.7 748.1L286.5 748.1L287.4 748.1L288.2 754.1L289.0 754.1L289.9 754.1L290.7 760.1L291.5 760.1L292.4 754.1L293.2 760.1L294.0 766.2L294.9 772.2L295.7 772.2L296.5 766.2L297.4 766.2L298.2 772.2L299.0 766.2L299.9 766.2L300.7 766.2L301.5 766.2L302.4 766.2L303.2 766.2L304.0 766.2L304.9 766.2L305.7 778.2L306.5 778.2L307.3 778.2L308.2 766.2L309.0 766.2L309.8 766.2L310.7 766.2L311.5 766.2L312.3 760.1L313.2 766.2L314.0 760.1L314.8 766.2L315.7 766.2L316.5 760.1L317.3 766.2L318.2 760.1L319.0 760.1L319.8 760.1L320.7 754.1L321.5 748.1L322.3 742.0L323.2 742.0L324.0 742.0L324.8 742.0L325.7 742.0L326.5 742.0L327.3 742.0L328.2 742.0L329.0 742.0L329.8 742.0L330.7 742.0L331.5 742.0L332.3 742.0L333.2 748.1L334.0 748.1L334.8 742.0L335.7 736.0L336.5 736.0L337.3 742.0L338.2 742.0L339.0 742.0L339.8 736.0L340.7 736.0L341.5 736.0L342.3 736.0L343.2 742.0L344.0 742.0L344.8 736.0L345.7 736.0L346.5 730.0L347.3 736.0L348.2 748.1L349.0 748.1L349.8 748.1L350.7 736.0L351.5 736.0L352.3 742.0L353.2 742.0L354.0 742.0L354.8 748.1L355.7 748.1L356.5 736.0L357.3 748.1L358.2 748.1L359.0 748.1L359.8 748.1L360.7 748.1L361.5 748.1L362.3 748.1L363.2 742.0L364.0 742.0L364.8 748.1L365.7 760.1L366.5 760.1L367.3 760.1L368.2 748.1L369.0 742.0L369.8 742.0L370.7 748.1L371.5 748.1L372.3 748.1L373.2 748.1L374.0 748.1L374.8 748.1L375.7 748.1L376.5 748.1L377.3 748.1L378.2 742.0L379.0 748.1L379.8 748.1L380.7 748.1L381.5 748.1L382.3 754.1L383.2 754.1L384.0 754.1L384.8 748.1L385.7 748.1L386.5 748.1L387.3 748.1L388.2 748.1L389.0 748.1L389.8 742.0L390.7 742.0L391.5 742.0L392.3 748.1L393.2 742.0L394.0 742.0L394.8 742.0L395.7 742.0L396.5 730.0L397.3 742.0L398.2 748.1L399.0 754.1L399.8 748.1L400.7 748.1L401.5 748.1L402.3 748.1L403.2 736.0L404.0 748.1L404.8 748.1L405.7 742.0L406.5 742.0L407.3 748.1L408.2 748.1L409.0 748.1L409.8 742.0L410.7 742.0L411.5 748.1L412.3 748.1L413.2 742.0L414.0 742.0L414.8 742.0L415.6 742.0L416.5 730.0L417.3 742.0L418.1 742.0L419.0 742.0L419.8 742.0L420.6 742.0L421.5 748.1L422.3 742.0L423.1 748.1L424.0 748.1L424.8 742.0L425.6 748.1L426.5 736.0L427.3 736.0L428.1 748.1L429.0 748.1L429.8 748.1L430.6 748.1L431.5 754.1L432.3 748.1L433.1 754.1L434.0 760.1L434.8 760.1L435.6 748.1L436.5 748.1L437.3 754.1L438.1 754.1L439.0 766.2L439.8 754.1L440.6 754.1L441.5 754.1L442.3 754.1L443.1 754.1L444.0 754.1L444.8 754.1L445.6 754.1L446.5 748.1L447.3 748.1L448.1 748.1L449.0 754.1L449.8 754.1L450.6 760.1L451.5 760.1L452.3 760.1L453.1 760.1L454.0 760.1L454.8 760.1L455.6 754.1L456.5 754.1L457.3 754.1L458.1 760.1L459.0 760.1L459.8 754.1L460.6 754.1L461.5 754.1L462.3 748.1L463.1 748.1L464.0 748.1L464.8 748.1L465.6 748.1L466.5 748.1L467.3 748.1L468.1 748.1L469.0 748.1L469.8 748.1L470.6 748.1L471.5 748.1L472.3 748.1L473.1 748.1L474.0 748.1L474.8 748.1L475.6 754.1L476.5 754.1L477.3 754.1L478.1 748.1L479.0 754.1L479.8 754.1L480.6 748.1L481.5 748.1L482.3 760.1L483.1 748.1L484.0 760.1L484.8 760.1L485.6 748.1L486.5 754.1L487.3 754.1L488.1 754.1L489.0 748.1L489.8 748.1L490.6 748.1L491.5 748.1L492.3 748.1L493.1 748.1L494.0 736.0L494.8 736.0L495.6 736.0L496.5 748.1L497.3 760.1L498.1 760.1L499.0 748.1L499.8 748.1L500.6 742.0L501.5 748.1L502.3 748.1L503.1 742.0L504.0 742.0L504.8 748.1L505.6 748.1" fill="none" stroke="#255E91" stroke-width="3.40" stroke-linejoin="round"/>
<path d="M89.5 935.1L91.6 772.2L92.4 754.1L93.2 760.1L94.1 766.2L94.9 760.1L95.7 760.1L96.6 760.1L97.4 766.2L98.2 754.1L99.1 748.1L99.9 748.1L100.7 772.2L101.6 760.1L102.4 748.1L103.2 760.1L104.1 772.2L104.9 778.2L105.7 772.2L106.6 760.1L107.4 760.1L108.2 754.1L109.1 760.1L109.9 760.1L110.7 772.2L111.6 772.2L112.4 772.2L113.2 760.1L114.1 766.2L114.9 766.2L115.7 760.1L116.6 754.1L117.4 754.1L118.2 748.1L119.1 766.2L119.9 766.2L120.7 754.1L121.6 754.1L122.4 748.1L123.2 742.0L124.1 730.0L124.9 723.9L125.7 717.9L126.6 730.0L127.4 723.9L128.2 723.9L129.1 723.9L129.9 730.0L130.7 730.0L131.6 723.9L132.4 711.9L133.2 705.8L134.1 705.8L134.9 711.9L135.7 717.9L136.6 717.9L137.4 723.9L138.2 717.9L139.1 717.9L139.9 717.9L140.7 711.9L141.6 711.9L142.4 705.8L143.2 705.8L144.1 705.8L144.9 699.8L145.7 699.8L146.6 699.8L147.4 705.8L148.2 705.8L149.1 705.8L149.9 699.8L150.7 699.8L151.6 699.8L152.4 705.8L153.2 711.9L154.1 705.8L154.9 705.8L155.7 711.9L156.6 717.9L157.4 705.8L158.2 723.9L159.1 736.0L159.9 736.0L160.7 730.0L161.6 742.0L162.4 736.0L163.2 736.0L164.1 730.0L164.9 730.0L165.7 730.0L166.6 742.0L167.4 730.0L168.2 730.0L169.1 723.9L169.9 723.9L170.7 723.9L171.6 723.9L172.4 723.9L173.2 730.0L174.1 730.0L174.9 730.0L175.7 730.0L176.6 723.9L177.4 730.0L178.2 730.0L179.1 730.0L179.9 730.0L180.7 730.0L181.6 730.0L182.4 730.0L183.2 723.9L184.1 730.0L184.9 730.0L185.7 730.0L186.6 723.9L187.4 730.0L188.2 730.0L189.1 736.0L189.9 730.0L190.7 730.0L191.6 723.9L192.4 723.9L193.2 723.9L194.1 723.9L194.9 723.9L195.7 717.9L196.6 723.9L197.4 717.9L198.2 717.9L199.0 723.9L199.9 730.0L200.7 723.9L201.5 723.9L202.4 730.0L203.2 730.0L204.0 723.9L204.9 717.9L205.7 730.0L206.5 730.0L207.4 717.9L208.2 723.9L209.0 717.9L209.9 723.9L210.7 730.0L211.5 723.9L212.4 730.0L213.2 717.9L214.0 717.9L214.9 717.9L215.7 711.9L216.5 711.9L217.4 711.9L218.2 717.9L219.0 730.0L219.9 730.0L220.7 730.0L221.5 717.9L222.4 717.9L223.2 711.9L224.0 705.8L224.9 711.9L225.7 711.9L226.5 711.9L227.4 711.9L228.2 711.9L229.0 711.9L229.9 711.9L230.7 705.8L231.5 705.8L232.4 705.8L233.2 705.8L234.0 723.9L234.9 717.9L235.7 717.9L236.5 717.9L237.4 711.9L238.2 705.8L239.0 717.9L239.9 717.9L240.7 717.9L241.5 717.9L242.4 723.9L243.2 723.9L244.0 705.8L244.9 705.8L245.7 705.8L246.5 717.9L247.4 723.9L248.2 723.9L249.0 717.9L249.9 705.8L250.7 705.8L251.5 717.9L252.4 711.9L253.2 711.9L254.0 711.9L254.9 723.9L255.7 723.9L256.5 723.9L257.4 723.9L258.2 717.9L259.0 723.9L259.9 717.9L260.7 717.9L261.5 717.9L262.4 723.9L263.2 723.9L264.0 736.0L264.9 730.0L265.7 730.0L266.5 723.9L267.4 723.9L268.2 723.9L269.0 730.0L269.9 730.0L270.7 730.0L271.5 730.0L272.4 730.0L273.2 730.0L274.0 730.0L274.9 730.0L275.7 723.9L276.5 723.9L277.4 723.9L278.2 723.9L279.0 723.9L279.9 717.9L280.7 717.9L281.5 723.9L282.4 723.9L283.2 723.9L284.0 730.0L284.9 730.0L285.7 730.0L286.5 730.0L287.4 742.0L288.2 723.9L289.0 723.9L289.9 723.9L290.7 742.0L291.5 730.0L292.4 723.9L293.2 723.9L294.0 736.0L294.9 730.0L295.7 730.0L296.5 736.0L297.4 730.0L298.2 742.0L299.0 742.0L299.9 742.0L300.7 723.9L301.5 736.0L302.4 730.0L303.2 730.0L304.0 730.0L304.9 736.0L305.7 730.0L306.5 742.0L307.3 742.0L308.2 742.0L309.0 748.1L309.8 748.1L310.7 736.0L311.5 736.0L312.3 742.0L313.2 742.0L314.0 760.1L314.8 754.1L315.7 754.1L316.5 742.0L317.3 742.0L318.2 742.0L319.0 742.0L319.8 742.0L320.7 736.0L321.5 736.0L322.3 742.0L323.2 742.0L324.0 730.0L324.8 730.0L325.7 736.0L326.5 736.0L327.3 748.1L328.2 748.1L329.0 736.0L329.8 736.0L330.7 736.0L331.5 736.0L332.3 736.0L333.2 748.1L334.0 742.0L334.8 748.1L335.7 730.0L336.5 730.0L337.3 730.0L338.2 730.0L339.0 742.0L339.8 742.0L340.7 723.9L341.5 711.9L342.3 717.9L343.2 717.9L344.0 723.9L344.8 723.9L345.7 723.9L346.5 723.9L347.3 730.0L348.2 723.9L349.0 730.0L349.8 736.0L350.7 736.0L351.5 723.9L352.3 723.9L353.2 723.9L354.0 723.9L354.8 736.0L355.7 723.9L356.5 730.0L357.3 736.0L358.2 742.0L359.0 736.0L359.8 723.9L360.7 742.0L361.5 742.0L362.3 742.0L363.2 748.1L364.0 754.1L364.8 748.1L365.7 748.1L366.5 742.0L367.3 742.0L368.2 748.1L369.0 748.1L369.8 742.0L370.7 742.0L371.5 748.1L372.3 754.1L373.2 754.1L374.0 748.1L374.8 742.0L375.7 742.0L376.5 742.0L377.3 742.0L378.2 748.1L379.0 748.1L379.8 748.1L380.7 748.1L381.5 748.1L382.3 748.1L383.2 748.1L384.0 748.1L384.8 736.0L385.7 736.0L386.5 748.1L387.3 748.1L388.2 736.0L389.0 748.1L389.8 754.1L390.7 754.1L391.5 742.0L392.3 748.1L393.2 748.1L394.0 748.1L394.8 748.1L395.7 748.1L396.5 748.1L397.3 754.1L398.2 742.0L399.0 754.1L399.8 748.1L400.7 748.1L401.5 742.0L402.3 748.1L403.2 748.1L404.0 742.0L404.8 736.0L405.7 736.0L406.5 736.0L407.3 736.0L408.2 736.0L409.0 736.0L409.8 748.1L410.7 736.0L411.5 748.1L412.3 748.1L413.2 748.1L414.0 730.0L414.8 730.0L415.6 723.9L416.5 736.0L417.3 736.0L418.1 736.0L419.0 736.0L419.8 736.0L420.6 736.0L421.5 736.0L422.3 736.0L423.1 748.1L424.0 736.0L424.8 736.0L425.6 736.0L426.5 736.0L427.3 736.0L428.1 736.0L429.0 723.9L429.8 730.0L430.6 730.0L431.5 730.0L432.3 742.0L433.1 742.0L434.0 723.9L434.8 736.0L435.6 730.0L436.5 736.0L437.3 736.0L438.1 742.0L439.0 730.0L439.8 730.0L440.6 742.0L441.5 736.0L442.3 736.0L443.1 736.0L444.0 736.0L444.8 748.1L445.6 742.0L446.5 742.0L447.3 730.0L448.1 736.0L449.0 736.0L449.8 736.0L450.6 742.0L451.5 742.0L452.3 742.0L453.1 736.0L454.0 736.0L454.8 748.1L455.6 748.1L456.5 754.1L457.3 736.0L458.1 736.0L459.0 736.0L459.8 736.0L460.6 742.0L461.5 742.0L462.3 736.0L463.1 736.0L464.0 736.0L464.8 736.0L465.6 736.0L466.5 730.0L467.3 736.0L468.1 736.0L469.0 736.0L469.8 736.0L470.6 736.0L471.5 736.0L472.3 736.0L473.1 742.0L474.0 736.0L474.8 736.0L475.6 736.0L476.5 736.0L477.3 736.0L478.1 742.0L479.0 742.0L479.8 742.0L480.6 742.0L481.5 742.0L482.3 736.0L483.1 736.0L484.0 736.0L484.8 736.0L485.6 736.0L486.5 736.0L487.3 736.0L488.1 730.0L489.0 730.0L489.8 730.0L490.6 736.0L491.5 736.0L492.3 730.0L493.1 736.0L494.0 723.9L494.8 730.0L495.6 736.0L496.5 736.0L497.3 730.0L498.1 730.0L499.0 723.9L499.8 717.9L500.6 723.9L501.5 723.9L502.3 730.0L503.1 730.0L504.0 717.9L504.8 723.9L505.6 723.9" fill="none" stroke="#000000" stroke-width="3.40" stroke-linejoin="round"/>
<path d="M89.5 935.1L91.6 808.4L92.4 808.4L93.2 796.3L94.1 796.3L94.9 784.3L95.7 772.2L96.6 784.3L97.4 766.2L98.2 772.2L99.1 742.0L99.9 736.0L100.7 748.1L101.6 748.1L102.4 742.0L103.2 736.0L104.1 711.9L104.9 711.9L105.7 699.8L106.6 693.8L107.4 705.8L108.2 736.0L109.1 754.1L109.9 730.0L110.7 711.9L111.6 687.7L112.4 705.8L113.2 705.8L114.1 723.9L114.9 723.9L115.7 748.1L116.6 723.9L117.4 730.0L118.2 723.9L119.1 711.9L119.9 705.8L120.7 730.0L121.6 693.8L122.4 687.7L123.2 687.7L124.1 705.8L124.9 736.0L125.7 748.1L126.6 736.0L127.4 723.9L128.2 730.0L129.1 687.7L129.9 693.8L130.7 681.7L131.6 675.7L132.4 705.8L133.2 687.7L134.1 687.7L134.9 717.9L135.7 699.8L136.6 687.7L137.4 675.7L138.2 669.6L139.1 711.9L139.9 711.9L140.7 717.9L141.6 711.9L142.4 705.8L143.2 687.7L144.1 681.7L144.9 705.8L145.7 687.7L146.6 663.6L147.4 663.6L148.2 687.7L149.1 687.7L149.9 675.7L150.7 693.8L151.6 681.7L152.4 693.8L153.2 669.6L154.1 657.6L154.9 663.6L155.7 681.7L156.6 669.6L157.4 675.7L158.2 681.7L159.1 657.6L159.9 669.6L160.7 687.7L161.6 675.7L162.4 657.6L163.2 651.5L164.1 657.6L164.9 663.6L165.7 669.6L166.6 663.6L167.4 663.6L168.2 669.6L169.1 675.7L169.9 705.8L170.7 717.9L171.6 699.8L172.4 717.9L173.2 705.8L174.1 693.8L174.9 693.8L175.7 681.7L176.6 663.6L177.4 663.6L178.2 645.5L179.1 633.4L179.9 639.5L180.7 657.6L181.6 681.7L182.4 663.6L183.2 645.5L184.1 645.5L184.9 627.4L185.7 627.4L186.6 627.4L187.4 633.4L188.2 657.6L189.1 651.5L189.9 645.5L190.7 651.5L191.6 657.6L192.4 663.6L193.2 651.5L194.1 681.7L194.9 681.7L195.7 681.7L196.6 675.7L197.4 669.6L198.2 687.7L199.0 693.8L199.9 711.9L200.7 681.7L201.5 675.7L202.4 675.7L203.2 693.8L204.0 711.9L204.9 681.7L205.7 681.7L206.5 675.7L207.4 651.5L208.2 693.8L209.0 705.8L209.9 687.7L210.7 675.7L211.5 699.8L212.4 693.8L213.2 699.8L214.0 705.8L214.9 693.8L215.7 687.7L216.5 663.6L217.4 663.6L218.2 645.5L219.0 675.7L219.9 675.7L220.7 699.8L221.5 723.9L222.4 723.9L223.2 699.8L224.0 693.8L224.9 717.9L225.7 681.7L226.5 669.6L227.4 675.7L228.2 681.7L229.0 681.7L229.9 705.8L230.7 663.6L231.5 681.7L232.4 681.7L233.2 687.7L234.0 693.8L234.9 699.8L235.7 681.7L236.5 699.8L237.4 699.8L238.2 699.8L239.0 675.7L239.9 687.7L240.7 693.8L241.5 675.7L242.4 687.7L243.2 681.7L244.0 657.6L244.9 651.5L245.7 651.5L246.5 633.4L247.4 645.5L248.2 657.6L249.0 675.7L249.9 663.6L250.7 651.5L251.5 657.6L252.4 633.4L253.2 627.4L254.0 627.4L254.9 651.5L255.7 645.5L256.5 645.5L257.4 669.6L258.2 663.6L259.0 663.6L259.9 675.7L260.7 663.6L261.5 633.4L262.4 633.4L263.2 651.5L264.0 651.5L264.9 639.5L265.7 651.5L266.5 651.5L267.4 651.5L268.2 651.5L269.0 633.4L269.9 657.6L270.7 639.5L271.5 645.5L272.4 645.5L273.2 669.6L274.0 657.6L274.9 657.6L275.7 675.7L276.5 675.7L277.4 675.7L278.2 675.7L279.0 675.7L279.9 675.7L280.7 651.5L281.5 639.5L282.4 645.5L283.2 633.4L284.0 627.4L284.9 627.4L285.7 651.5L286.5 645.5L287.4 633.4L288.2 651.5L289.0 651.5L289.9 639.5L290.7 633.4L291.5 633.4L292.4 633.4L293.2 645.5L294.0 651.5L294.9 639.5L295.7 633.4L296.5 645.5L297.4 657.6L298.2 639.5L299.0 633.4L299.9 651.5L300.7 669.6L301.5 663.6L302.4 651.5L303.2 639.5L304.0 633.4L304.9 657.6L305.7 657.6L306.5 657.6L307.3 663.6L308.2 639.5L309.0 645.5L309.8 645.5L310.7 651.5L311.5 645.5L312.3 633.4L313.2 645.5L314.0 651.5L314.8 657.6L315.7 663.6L316.5 663.6L317.3 657.6L318.2 651.5L319.0 657.6L319.8 675.7L320.7 663.6L321.5 657.6L322.3 639.5L323.2 651.5L324.0 669.6L324.8 681.7L325.7 681.7L326.5 669.6L327.3 663.6L328.2 675.7L329.0 675.7L329.8 651.5L330.7 651.5L331.5 657.6L332.3 657.6L333.2 675.7L334.0 681.7L334.8 675.7L335.7 651.5L336.5 639.5L337.3 645.5L338.2 645.5L339.0 645.5L339.8 633.4L340.7 651.5L341.5 651.5L342.3 639.5L343.2 663.6L344.0 663.6L344.8 657.6L345.7 651.5L346.5 651.5L347.3 645.5L348.2 639.5L349.0 633.4L349.8 639.5L350.7 633.4L351.5 645.5L352.3 657.6L353.2 651.5L354.0 669.6L354.8 687.7L355.7 693.8L356.5 669.6L357.3 675.7L358.2 687.7L359.0 657.6L359.8 657.6L360.7 657.6L361.5 675.7L362.3 669.6L363.2 675.7L364.0 669.6L364.8 675.7L365.7 687.7L366.5 693.8L367.3 711.9L368.2 717.9L369.0 730.0L369.8 717.9L370.7 705.8L371.5 699.8L372.3 723.9L373.2 699.8L374.0 705.8L374.8 711.9L375.7 711.9L376.5 711.9L377.3 699.8L378.2 699.8L379.0 699.8L379.8 693.8L380.7 687.7L381.5 705.8L382.3 723.9L383.2 736.0L384.0 736.0L384.8 730.0L385.7 717.9L386.5 717.9L387.3 705.8L388.2 705.8L389.0 693.8L389.8 681.7L390.7 699.8L391.5 687.7L392.3 681.7L393.2 699.8L394.0 699.8L394.8 705.8L395.7 723.9L396.5 717.9L397.3 730.0L398.2 717.9L399.0 717.9L399.8 711.9L400.7 687.7L401.5 687.7L402.3 693.8L403.2 687.7L404.0 675.7L404.8 669.6L405.7 681.7L406.5 669.6L407.3 675.7L408.2 687.7L409.0 669.6L409.8 669.6L410.7 669.6L411.5 669.6L412.3 693.8L413.2 687.7L414.0 675.7L414.8 681.7L415.6 663.6L416.5 669.6L417.3 657.6L418.1 657.6L419.0 669.6L419.8 681.7L420.6 687.7L421.5 681.7L422.3 675.7L423.1 681.7L424.0 693.8L424.8 669.6L425.6 669.6L426.5 669.6L427.3 657.6L428.1 663.6L429.0 693.8L429.8 681.7L430.6 687.7L431.5 675.7L432.3 693.8L433.1 687.7L434.0 675.7L434.8 657.6L435.6 657.6L436.5 657.6L437.3 663.6L438.1 669.6L439.0 681.7L439.8 669.6L440.6 657.6L441.5 657.6L442.3 675.7L443.1 693.8L444.0 693.8L444.8 669.6L445.6 669.6L446.5 681.7L447.3 681.7L448.1 669.6L449.0 681.7L449.8 681.7L450.6 687.7L451.5 693.8L452.3 663.6L453.1 675.7L454.0 675.7L454.8 663.6L455.6 669.6L456.5 675.7L457.3 675.7L458.1 675.7L459.0 669.6L459.8 669.6L460.6 663.6L461.5 651.5L462.3 621.4L463.1 627.4L464.0 615.3L464.8 615.3L465.6 621.4L466.5 621.4L467.3 603.3L468.1 615.3L469.0 603.3L469.8 603.3L470.6 585.2L471.5 603.3L472.3 585.2L473.1 579.1L474.0 579.1L474.8 591.2L475.6 591.2L476.5 591.2L477.3 597.2L478.1 585.2L479.0 591.2L479.8 591.2L480.6 585.2L481.5 591.2L482.3 597.2L483.1 597.2L484.0 603.3L484.8 621.4L485.6 621.4L486.5 615.3L487.3 621.4L488.1 627.4L489.0 615.3L489.8 615.3L490.6 603.3L491.5 597.2L492.3 579.1L493.1 579.1L494.0 579.1L494.8 573.1L495.6 585.2L496.5 579.1L497.3 573.1L498.1 603.3L499.0 615.3L499.8 603.3L500.6 585.2L501.5 591.2L502.3 609.3L503.1 621.4L504.0 609.3L504.8 603.3L505.6 609.3" fill="none" stroke="#FFC000" stroke-width="3.40" stroke-linejoin="round"/>
<path d="M89.5 935.1L91.6 754.1L92.4 730.0L93.2 711.9L94.1 699.8L94.9 681.7L95.7 711.9L96.6 705.8L97.4 723.9L98.2 760.1L99.1 760.1L99.9 742.0L100.7 754.1L101.6 748.1L102.4 711.9L103.2 705.8L104.1 705.8L104.9 705.8L105.7 717.9L106.6 754.1L107.4 717.9L108.2 748.1L109.1 730.0L109.9 730.0L110.7 723.9L111.6 717.9L112.4 723.9L113.2 705.8L114.1 736.0L114.9 711.9L115.7 748.1L116.6 711.9L117.4 723.9L118.2 711.9L119.1 687.7L119.9 736.0L120.7 736.0L121.6 717.9L122.4 699.8L123.2 681.7L124.1 687.7L124.9 693.8L125.7 699.8L126.6 705.8L127.4 705.8L128.2 693.8L129.1 699.8L129.9 693.8L130.7 675.7L131.6 675.7L132.4 699.8L133.2 705.8L134.1 699.8L134.9 717.9L135.7 748.1L136.6 754.1L137.4 723.9L138.2 723.9L139.1 730.0L139.9 705.8L140.7 730.0L141.6 687.7L142.4 699.8L143.2 711.9L144.1 675.7L144.9 711.9L145.7 723.9L146.6 717.9L147.4 736.0L148.2 730.0L149.1 711.9L149.9 711.9L150.7 711.9L151.6 693.8L152.4 669.6L153.2 669.6L154.1 717.9L154.9 693.8L155.7 687.7L156.6 693.8L157.4 717.9L158.2 723.9L159.1 723.9L159.9 742.0L160.7 705.8L161.6 693.8L162.4 699.8L163.2 723.9L164.1 693.8L164.9 687.7L165.7 681.7L166.6 699.8L167.4 669.6L168.2 687.7L169.1 669.6L169.9 723.9L170.7 711.9L171.6 711.9L172.4 748.1L173.2 742.0L174.1 748.1L174.9 754.1L175.7 748.1L176.6 754.1L177.4 730.0L178.2 711.9L179.1 705.8L179.9 723.9L180.7 723.9L181.6 687.7L182.4 705.8L183.2 705.8L184.1 717.9L184.9 705.8L185.7 687.7L186.6 681.7L187.4 687.7L188.2 681.7L189.1 699.8L189.9 693.8L190.7 717.9L191.6 711.9L192.4 693.8L193.2 717.9L194.1 699.8L194.9 699.8L195.7 723.9L196.6 748.1L197.4 748.1L198.2 748.1L199.0 730.0L199.9 711.9L200.7 687.7L201.5 663.6L202.4 687.7L203.2 736.0L204.0 748.1L204.9 748.1L205.7 748.1L206.5 742.0L207.4 699.8L208.2 730.0L209.0 723.9L209.9 717.9L210.7 717.9L211.5 723.9L212.4 675.7L213.2 693.8L214.0 699.8L214.9 687.7L215.7 687.7L216.5 663.6L217.4 699.8L218.2 705.8L219.0 711.9L219.9 705.8L220.7 687.7L221.5 705.8L222.4 736.0L223.2 717.9L224.0 730.0L224.9 699.8L225.7 693.8L226.5 651.5L227.4 657.6L228.2 687.7L229.0 681.7L229.9 663.6L230.7 675.7L231.5 681.7L232.4 687.7L233.2 693.8L234.0 711.9L234.9 675.7L235.7 669.6L236.5 705.8L237.4 669.6L238.2 675.7L239.0 675.7L239.9 675.7L240.7 651.5L241.5 705.8L242.4 693.8L243.2 675.7L244.0 675.7L244.9 711.9L245.7 717.9L246.5 693.8L247.4 651.5L248.2 699.8L249.0 699.8L249.9 681.7L250.7 669.6L251.5 657.6L252.4 639.5L253.2 633.4L254.0 681.7L254.9 681.7L255.7 699.8L256.5 687.7L257.4 645.5L258.2 633.4L259.0 621.4L259.9 621.4L260.7 621.4L261.5 621.4L262.4 651.5L263.2 663.6L264.0 651.5L264.9 645.5L265.7 639.5L266.5 669.6L267.4 693.8L268.2 705.8L269.0 651.5L269.9 657.6L270.7 645.5L271.5 657.6L272.4 663.6L273.2 669.6L274.0 675.7L274.9 669.6L275.7 651.5L276.5 687.7L277.4 675.7L278.2 675.7L279.0 681.7L279.9 663.6L280.7 633.4L281.5 675.7L282.4 669.6L283.2 645.5L284.0 639.5L284.9 681.7L285.7 663.6L286.5 675.7L287.4 681.7L288.2 657.6L289.0 681.7L289.9 669.6L290.7 651.5L291.5 669.6L292.4 687.7L293.2 639.5L294.0 669.6L294.9 645.5L295.7 669.6L296.5 663.6L297.4 675.7L298.2 669.6L299.0 663.6L299.9 687.7L300.7 681.7L301.5 657.6L302.4 675.7L303.2 717.9L304.0 687.7L304.9 693.8L305.7 675.7L306.5 681.7L307.3 693.8L308.2 687.7L309.0 669.6L309.8 663.6L310.7 693.8L311.5 711.9L312.3 717.9L313.2 669.6L314.0 663.6L314.8 687.7L315.7 681.7L316.5 651.5L317.3 681.7L318.2 687.7L319.0 663.6L319.8 651.5L320.7 645.5L321.5 675.7L322.3 669.6L323.2 711.9L324.0 699.8L324.8 699.8L325.7 699.8L326.5 657.6L327.3 669.6L328.2 675.7L329.0 657.6L329.8 627.4L330.7 663.6L331.5 651.5L332.3 663.6L333.2 699.8L334.0 699.8L334.8 675.7L335.7 681.7L336.5 681.7L337.3 675.7L338.2 681.7L339.0 681.7L339.8 693.8L340.7 669.6L341.5 705.8L342.3 681.7L343.2 687.7L344.0 663.6L344.8 681.7L345.7 705.8L346.5 675.7L347.3 645.5L348.2 687.7L349.0 663.6L349.8 657.6L350.7 675.7L351.5 657.6L352.3 669.6L353.2 645.5L354.0 627.4L354.8 651.5L355.7 657.6L356.5 657.6L357.3 693.8L358.2 687.7L359.0 675.7L359.8 627.4L360.7 621.4L361.5 633.4L362.3 657.6L363.2 651.5L364.0 651.5L364.8 681.7L365.7 675.7L366.5 693.8L367.3 687.7L368.2 699.8L369.0 657.6L369.8 669.6L370.7 681.7L371.5 681.7L372.3 699.8L373.2 687.7L374.0 645.5L374.8 645.5L375.7 657.6L376.5 657.6L377.3 657.6L378.2 663.6L379.0 669.6L379.8 663.6L380.7 657.6L381.5 663.6L382.3 657.6L383.2 681.7L384.0 699.8L384.8 699.8L385.7 681.7L386.5 687.7L387.3 675.7L388.2 681.7L389.0 675.7L389.8 663.6L390.7 687.7L391.5 687.7L392.3 645.5L393.2 615.3L394.0 633.4L394.8 639.5L395.7 657.6L396.5 675.7L397.3 651.5L398.2 633.4L399.0 633.4L399.8 633.4L400.7 657.6L401.5 633.4L402.3 639.5L403.2 657.6L404.0 639.5L404.8 657.6L405.7 675.7L406.5 663.6L407.3 681.7L408.2 687.7L409.0 663.6L409.8 657.6L410.7 663.6L411.5 645.5L412.3 645.5L413.2 633.4L414.0 627.4L414.8 627.4L415.6 657.6L416.5 639.5L417.3 645.5L418.1 639.5L419.0 645.5L419.8 633.4L420.6 645.5L421.5 657.6L422.3 645.5L423.1 657.6L424.0 675.7L424.8 669.6L425.6 669.6L426.5 669.6L427.3 663.6L428.1 675.7L429.0 681.7L429.8 627.4L430.6 657.6L431.5 651.5L432.3 651.5L433.1 663.6L434.0 669.6L434.8 681.7L435.6 693.8L436.5 645.5L437.3 669.6L438.1 681.7L439.0 651.5L439.8 681.7L440.6 645.5L441.5 651.5L442.3 627.4L443.1 657.6L444.0 669.6L444.8 651.5L445.6 657.6L446.5 669.6L447.3 645.5L448.1 651.5L449.0 669.6L449.8 663.6L450.6 651.5L451.5 657.6L452.3 621.4L453.1 627.4L454.0 639.5L454.8 645.5L455.6 633.4L456.5 651.5L457.3 663.6L458.1 657.6L459.0 669.6L459.8 681.7L460.6 711.9L461.5 717.9L462.3 717.9L463.1 693.8L464.0 705.8L464.8 699.8L465.6 705.8L466.5 699.8L467.3 669.6L468.1 657.6L469.0 651.5L469.8 687.7L470.6 705.8L471.5 687.7L472.3 711.9L473.1 687.7L474.0 657.6L474.8 693.8L475.6 675.7L476.5 681.7L477.3 681.7L478.1 687.7L479.0 717.9L479.8 717.9L480.6 717.9L481.5 723.9L482.3 717.9L483.1 699.8L484.0 711.9L484.8 693.8L485.6 693.8L486.5 681.7L487.3 681.7L488.1 693.8L489.0 657.6L489.8 663.6L490.6 657.6L491.5 675.7L492.3 681.7L493.1 669.6L494.0 693.8L494.8 687.7L495.6 663.6L496.5 681.7L497.3 681.7L498.1 699.8L499.0 693.8L499.8 687.7L500.6 687.7L501.5 675.7L502.3 687.7L503.1 693.8L504.0 669.6L504.8 663.6L505.6 669.6" fill="none" stroke="#4472C4" stroke-width="3.40" stroke-linejoin="round"/>
<path d="M89.5 935.1L91.6 681.7L92.4 693.8L93.2 717.9L94.1 742.0L94.9 754.1L95.7 723.9L96.6 730.0L97.4 736.0L98.2 717.9L99.1 705.8L99.9 748.1L100.7 693.8L101.6 748.1L102.4 669.6L103.2 669.6L104.1 699.8L104.9 663.6L105.7 681.7L106.6 675.7L107.4 681.7L108.2 663.6L109.1 657.6L109.9 705.8L110.7 711.9L111.6 693.8L112.4 699.8L113.2 742.0L114.1 663.6L114.9 730.0L115.7 742.0L116.6 742.0L117.4 699.8L118.2 651.5L119.1 681.7L119.9 699.8L120.7 687.7L121.6 699.8L122.4 693.8L123.2 717.9L124.1 693.8L124.9 681.7L125.7 736.0L126.6 711.9L127.4 693.8L128.2 681.7L129.1 705.8L129.9 730.0L130.7 730.0L131.6 687.7L132.4 711.9L133.2 717.9L134.1 669.6L134.9 705.8L135.7 717.9L136.6 699.8L137.4 687.7L138.2 663.6L139.1 699.8L139.9 730.0L140.7 705.8L141.6 681.7L142.4 723.9L143.2 711.9L144.1 687.7L144.9 681.7L145.7 681.7L146.6 687.7L147.4 699.8L148.2 705.8L149.1 663.6L149.9 693.8L150.7 657.6L151.6 699.8L152.4 645.5L153.2 699.8L154.1 651.5L154.9 687.7L155.7 681.7L156.6 681.7L157.4 693.8L158.2 639.5L159.1 663.6L159.9 705.8L160.7 681.7L161.6 669.6L162.4 711.9L163.2 687.7L164.1 687.7L164.9 669.6L165.7 663.6L166.6 681.7L167.4 699.8L168.2 669.6L169.1 675.7L169.9 723.9L170.7 717.9L171.6 711.9L172.4 705.8L173.2 645.5L174.1 687.7L174.9 675.7L175.7 645.5L176.6 663.6L177.4 669.6L178.2 651.5L179.1 669.6L179.9 681.7L180.7 669.6L181.6 675.7L182.4 699.8L183.2 723.9L184.1 705.8L184.9 663.6L185.7 687.7L186.6 663.6L187.4 669.6L188.2 693.8L189.1 742.0L189.9 705.8L190.7 699.8L191.6 736.0L192.4 693.8L193.2 693.8L194.1 681.7L194.9 705.8L195.7 687.7L196.6 699.8L197.4 669.6L198.2 681.7L199.0 723.9L199.9 693.8L200.7 693.8L201.5 693.8L202.4 723.9L203.2 675.7L204.0 705.8L204.9 657.6L205.7 693.8L206.5 693.8L207.4 693.8L208.2 687.7L209.0 639.5L209.9 687.7L210.7 639.5L211.5 657.6L212.4 693.8L213.2 663.6L214.0 657.6L214.9 657.6L215.7 711.9L216.5 687.7L217.4 699.8L218.2 699.8L219.0 693.8L219.9 693.8L220.7 651.5L221.5 669.6L222.4 730.0L223.2 675.7L224.0 681.7L224.9 687.7L225.7 736.0L226.5 693.8L227.4 705.8L228.2 669.6L229.0 675.7L229.9 663.6L230.7 693.8L231.5 736.0L232.4 681.7L233.2 675.7L234.0 693.8L234.9 705.8L235.7 717.9L236.5 742.0L237.4 742.0L238.2 711.9L239.0 663.6L239.9 675.7L240.7 651.5L241.5 705.8L242.4 669.6L243.2 699.8L244.0 663.6L244.9 657.6L245.7 687.7L246.5 693.8L247.4 669.6L248.2 711.9L249.0 754.1L249.9 705.8L250.7 657.6L251.5 736.0L252.4 711.9L253.2 736.0L254.0 723.9L254.9 736.0L255.7 693.8L256.5 711.9L257.4 711.9L258.2 736.0L259.0 699.8L259.9 711.9L260.7 717.9L261.5 711.9L262.4 742.0L263.2 717.9L264.0 748.1L264.9 723.9L265.7 717.9L266.5 717.9L267.4 711.9L268.2 723.9L269.0 699.8L269.9 699.8L270.7 717.9L271.5 711.9L272.4 723.9L273.2 711.9L274.0 717.9L274.9 754.1L275.7 681.7L276.5 705.8L277.4 723.9L278.2 699.8L279.0 754.1L279.9 730.0L280.7 705.8L281.5 711.9L282.4 705.8L283.2 717.9L284.0 717.9L284.9 711.9L285.7 699.8L286.5 730.0L287.4 705.8L288.2 699.8L289.0 717.9L289.9 723.9L290.7 705.8L291.5 675.7L292.4 669.6L293.2 711.9L294.0 717.9L294.9 723.9L295.7 699.8L296.5 705.8L297.4 693.8L298.2 669.6L299.0 687.7L299.9 687.7L300.7 687.7L301.5 717.9L302.4 711.9L303.2 711.9L304.0 717.9L304.9 669.6L305.7 681.7L306.5 742.0L307.3 736.0L308.2 717.9L309.0 711.9L309.8 723.9L310.7 717.9L311.5 717.9L312.3 723.9L313.2 693.8L314.0 699.8L314.8 717.9L315.7 717.9L316.5 705.8L317.3 730.0L318.2 730.0L319.0 699.8L319.8 675.7L320.7 742.0L321.5 669.6L322.3 705.8L323.2 681.7L324.0 730.0L324.8 693.8L325.7 699.8L326.5 705.8L327.3 711.9L328.2 711.9L329.0 687.7L329.8 717.9L330.7 711.9L331.5 717.9L332.3 748.1L333.2 717.9L334.0 705.8L334.8 717.9L335.7 742.0L336.5 723.9L337.3 711.9L338.2 705.8L339.0 699.8L339.8 730.0L340.7 687.7L341.5 675.7L342.3 675.7L343.2 681.7L344.0 663.6L344.8 669.6L345.7 663.6L346.5 681.7L347.3 687.7L348.2 681.7L349.0 711.9L349.8 711.9L350.7 699.8L351.5 711.9L352.3 748.1L353.2 730.0L354.0 723.9L354.8 681.7L355.7 730.0L356.5 723.9L357.3 663.6L358.2 730.0L359.0 711.9L359.8 711.9L360.7 736.0L361.5 705.8L362.3 717.9L363.2 736.0L364.0 723.9L364.8 736.0L365.7 675.7L366.5 681.7L367.3 711.9L368.2 693.8L369.0 645.5L369.8 705.8L370.7 717.9L371.5 699.8L372.3 693.8L373.2 687.7L374.0 723.9L374.8 699.8L375.7 723.9L376.5 717.9L377.3 675.7L378.2 699.8L379.0 681.7L379.8 693.8L380.7 687.7L381.5 681.7L382.3 669.6L383.2 663.6L384.0 699.8L384.8 651.5L385.7 663.6L386.5 657.6L387.3 651.5L388.2 687.7L389.0 687.7L389.8 687.7L390.7 681.7L391.5 645.5L392.3 639.5L393.2 639.5L394.0 639.5L394.8 639.5L395.7 663.6L396.5 699.8L397.3 693.8L398.2 693.8L399.0 717.9L399.8 705.8L400.7 681.7L401.5 681.7L402.3 663.6L403.2 663.6L404.0 669.6L404.8 651.5L405.7 675.7L406.5 681.7L407.3 651.5L408.2 651.5L409.0 711.9L409.8 693.8L410.7 651.5L411.5 663.6L412.3 645.5L413.2 711.9L414.0 681.7L414.8 736.0L415.6 687.7L416.5 717.9L417.3 663.6L418.1 693.8L419.0 687.7L419.8 681.7L420.6 681.7L421.5 723.9L422.3 681.7L423.1 699.8L424.0 639.5L424.8 675.7L425.6 675.7L426.5 693.8L427.3 645.5L428.1 639.5L429.0 651.5L429.8 645.5L430.6 693.8L431.5 711.9L432.3 663.6L433.1 699.8L434.0 699.8L434.8 730.0L435.6 711.9L436.5 681.7L437.3 687.7L438.1 723.9L439.0 681.7L439.8 681.7L440.6 736.0L441.5 730.0L442.3 711.9L443.1 705.8L444.0 687.7L444.8 663.6L445.6 681.7L446.5 687.7L447.3 651.5L448.1 639.5L449.0 675.7L449.8 645.5L450.6 717.9L451.5 657.6L452.3 663.6L453.1 699.8L454.0 705.8L454.8 687.7L455.6 657.6L456.5 651.5L457.3 669.6L458.1 687.7L459.0 687.7L459.8 723.9L460.6 717.9L461.5 730.0L462.3 723.9L463.1 705.8L464.0 717.9L464.8 754.1L465.6 705.8L466.5 711.9L467.3 699.8L468.1 723.9L469.0 723.9L469.8 723.9L470.6 687.7L471.5 730.0L472.3 699.8L473.1 711.9L474.0 693.8L474.8 723.9L475.6 754.1L476.5 705.8L477.3 717.9L478.1 705.8L479.0 693.8L479.8 748.1L480.6 736.0L481.5 723.9L482.3 705.8L483.1 699.8L484.0 687.7L484.8 711.9L485.6 681.7L486.5 699.8L487.3 711.9L488.1 723.9L489.0 742.0L489.8 723.9L490.6 711.9L491.5 705.8L492.3 669.6L493.1 687.7L494.0 693.8L494.8 736.0L495.6 723.9L496.5 717.9L497.3 705.8L498.1 711.9L499.0 705.8L499.8 730.0L500.6 693.8L501.5 681.7L502.3 730.0L503.1 754.1L504.0 742.0L504.8 717.9L505.6 736.0" fill="none" stroke="#70AD47" stroke-width="3.40" stroke-linejoin="round"/>
<text x="75.60" y="939.60" text-anchor="end" font-size="21.80">0</text>
<text x="75.60" y="872.93" text-anchor="end" font-size="21.80">5</text>
<text x="75.60" y="802.37" text-anchor="end" font-size="21.80">10</text>
<text x="75.60" y="732.90" text-anchor="end" font-size="21.80">15</text>
<text x="75.60" y="663.93" text-anchor="end" font-size="21.80">20</text>
<text x="75.60" y="592.52" text-anchor="end" font-size="21.80">25</text>
<text x="75.60" y="527.10" text-anchor="end" font-size="21.80">30</text>
<text x="89.50" y="968.20" text-anchor="middle" font-size="21.80">0</text>
<text x="172.81" y="968.20" text-anchor="middle" font-size="21.80">200</text>
<text x="256.12" y="968.20" text-anchor="middle" font-size="21.80">400</text>
<text x="339.42" y="968.20" text-anchor="middle" font-size="21.80">600</text>
<text x="422.73" y="968.20" text-anchor="middle" font-size="21.80">800</text>
<text x="506.04" y="968.20" text-anchor="middle" font-size="21.80">1000</text>
<text x="589.35" y="968.20" text-anchor="middle" font-size="21.80">1200</text>
<text x="360.25" y="1001.00" font-size="25" text-anchor="middle">Time (ps)</text>
<text transform="translate(20.0 732.0) rotate(-90)" font-size="25" text-anchor="middle">Adsorbed oxygen density (atoms/nm²)</text>
<text x="97.2" y="558" font-size="44">(b)</text>
<line x1="531.10" y1="544.40" x2="560.70" y2="544.40" stroke="#5B9BD5" stroke-width="2.8" stroke-linecap="round"/>
<text x="566.90" y="550.80" font-size="21.60">1 eV</text>
<line x1="531.10" y1="577.27" x2="560.70" y2="577.27" stroke="#ED7D31" stroke-width="2.8" stroke-linecap="round"/>
<text x="566.90" y="583.78" font-size="21.60">3 eV</text>
<line x1="531.10" y1="610.14" x2="560.70" y2="610.14" stroke="#255E91" stroke-width="2.8" stroke-linecap="round"/>
<text x="566.90" y="616.76" font-size="21.60">5 eV</text>
<line x1="531.10" y1="643.01" x2="560.70" y2="643.01" stroke="#000000" stroke-width="2.8" stroke-linecap="round"/>
<text x="566.90" y="649.74" font-size="21.60">7 eV</text>
<line x1="531.10" y1="675.88" x2="560.70" y2="675.88" stroke="#FFC000" stroke-width="2.8" stroke-linecap="round"/>
<text x="566.90" y="682.72" font-size="21.60">10 eV</text>
<line x1="531.10" y1="708.75" x2="560.70" y2="708.75" stroke="#4472C4" stroke-width="2.8" stroke-linecap="round"/>
<text x="566.90" y="715.70" font-size="21.60">15 eV</text>
<line x1="531.10" y1="741.62" x2="560.70" y2="741.62" stroke="#70AD47" stroke-width="2.8" stroke-linecap="round"/>
<text x="566.90" y="748.68" font-size="21.60">20 eV</text>
<rect x="36.79" y="38.70" width="5.30" height="3.43" fill="#fff"/>
<rect x="44.06" y="38.70" width="4.85" height="3.43" fill="#fff"/>
<rect x="481.51" y="443.07" width="5.30" height="3.43" fill="#fff"/>
<rect x="488.78" y="443.07" width="4.85" height="3.43" fill="#fff"/>
<rect x="565.11" y="443.07" width="5.30" height="3.43" fill="#fff"/>
<rect x="572.38" y="443.07" width="4.85" height="3.43" fill="#fff"/>
<rect x="562.55" y="32.49" width="5.27" height="3.41" fill="#fff"/>
<rect x="569.76" y="32.49" width="4.82" height="3.41" fill="#fff"/>
<rect x="562.55" y="162.41" width="5.27" height="3.41" fill="#fff"/>
<rect x="569.76" y="162.41" width="4.82" height="3.41" fill="#fff"/>
<rect x="562.55" y="194.89" width="5.27" height="3.41" fill="#fff"/>
<rect x="569.76" y="194.89" width="4.82" height="3.41" fill="#fff"/>
<rect x="51.51" y="799.94" width="5.30" height="3.43" fill="#fff"/>
<rect x="58.78" y="799.94" width="4.85" height="3.43" fill="#fff"/>
<rect x="51.51" y="730.47" width="5.30" height="3.43" fill="#fff"/>
<rect x="58.78" y="730.47" width="4.85" height="3.43" fill="#fff"/>
<rect x="481.95" y="965.77" width="5.30" height="3.43" fill="#fff"/>
<rect x="489.22" y="965.77" width="4.85" height="3.43" fill="#fff"/>
<rect x="565.26" y="965.77" width="5.30" height="3.43" fill="#fff"/>
<rect x="572.53" y="965.77" width="4.85" height="3.43" fill="#fff"/>
<rect x="567.05" y="548.39" width="5.27" height="3.41" fill="#fff"/>
<rect x="574.26" y="548.39" width="4.82" height="3.41" fill="#fff"/>
<rect x="567.05" y="680.31" width="5.27" height="3.41" fill="#fff"/>
<rect x="574.26" y="680.31" width="4.82" height="3.41" fill="#fff"/>
<rect x="567.05" y="713.29" width="5.27" height="3.41" fill="#fff"/>
<rect x="574.26" y="713.29" width="4.82" height="3.41" fill="#fff"/>
</g></svg></body></html>
